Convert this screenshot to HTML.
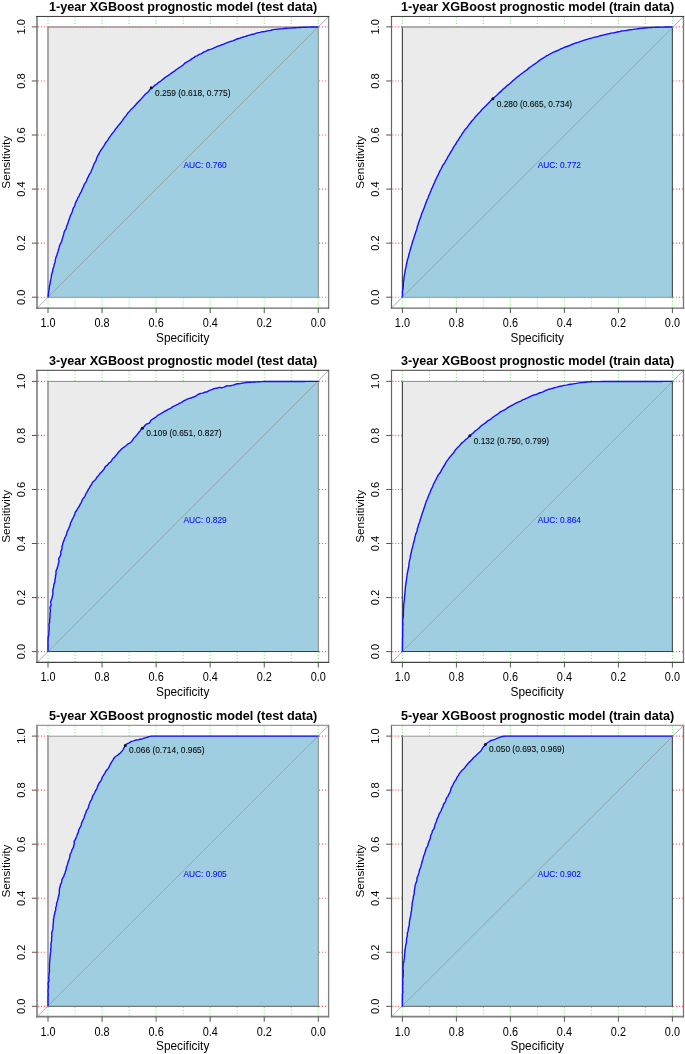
<!DOCTYPE html>
<html><head><meta charset="utf-8"><title>ROC curves</title>
<style>
html,body{margin:0;padding:0;background:#fff;}
body{width:685px;height:1054px;overflow:hidden;font-family:"Liberation Sans",sans-serif;}
svg{display:block;will-change:transform;transform:translateZ(0);}
</style></head><body>
<svg width="685" height="1054" viewBox="0 0 685 1054" font-family="'Liberation Sans', sans-serif">
<rect width="685" height="1054" fill="#fff"/>
<g>
<line x1="318.3" y1="17.3" x2="318.3" y2="26.9" stroke="#66f566" stroke-width="1.05" stroke-dasharray="1 1.9"/>
<line x1="318.3" y1="297.8" x2="318.3" y2="307.9" stroke="#66f566" stroke-width="1.05" stroke-dasharray="1 1.9"/>
<line x1="291.27" y1="17.3" x2="291.27" y2="26.9" stroke="#66f566" stroke-width="1.05" stroke-dasharray="1 1.9"/>
<line x1="291.27" y1="297.8" x2="291.27" y2="307.9" stroke="#66f566" stroke-width="1.05" stroke-dasharray="1 1.9"/>
<line x1="264.24" y1="17.3" x2="264.24" y2="26.9" stroke="#66f566" stroke-width="1.05" stroke-dasharray="1 1.9"/>
<line x1="264.24" y1="297.8" x2="264.24" y2="307.9" stroke="#66f566" stroke-width="1.05" stroke-dasharray="1 1.9"/>
<line x1="237.21" y1="17.3" x2="237.21" y2="26.9" stroke="#66f566" stroke-width="1.05" stroke-dasharray="1 1.9"/>
<line x1="237.21" y1="297.8" x2="237.21" y2="307.9" stroke="#66f566" stroke-width="1.05" stroke-dasharray="1 1.9"/>
<line x1="210.18" y1="17.3" x2="210.18" y2="26.9" stroke="#66f566" stroke-width="1.05" stroke-dasharray="1 1.9"/>
<line x1="210.18" y1="297.8" x2="210.18" y2="307.9" stroke="#66f566" stroke-width="1.05" stroke-dasharray="1 1.9"/>
<line x1="183.15" y1="17.3" x2="183.15" y2="26.9" stroke="#66f566" stroke-width="1.05" stroke-dasharray="1 1.9"/>
<line x1="183.15" y1="297.8" x2="183.15" y2="307.9" stroke="#66f566" stroke-width="1.05" stroke-dasharray="1 1.9"/>
<line x1="156.12" y1="17.3" x2="156.12" y2="26.9" stroke="#66f566" stroke-width="1.05" stroke-dasharray="1 1.9"/>
<line x1="156.12" y1="297.8" x2="156.12" y2="307.9" stroke="#66f566" stroke-width="1.05" stroke-dasharray="1 1.9"/>
<line x1="129.09" y1="17.3" x2="129.09" y2="26.9" stroke="#66f566" stroke-width="1.05" stroke-dasharray="1 1.9"/>
<line x1="129.09" y1="297.8" x2="129.09" y2="307.9" stroke="#66f566" stroke-width="1.05" stroke-dasharray="1 1.9"/>
<line x1="102.06" y1="17.3" x2="102.06" y2="26.9" stroke="#66f566" stroke-width="1.05" stroke-dasharray="1 1.9"/>
<line x1="102.06" y1="297.8" x2="102.06" y2="307.9" stroke="#66f566" stroke-width="1.05" stroke-dasharray="1 1.9"/>
<line x1="75.03" y1="17.3" x2="75.03" y2="26.9" stroke="#66f566" stroke-width="1.05" stroke-dasharray="1 1.9"/>
<line x1="75.03" y1="297.8" x2="75.03" y2="307.9" stroke="#66f566" stroke-width="1.05" stroke-dasharray="1 1.9"/>
<line x1="48" y1="17.3" x2="48" y2="26.9" stroke="#66f566" stroke-width="1.05" stroke-dasharray="1 1.9"/>
<line x1="48" y1="297.8" x2="48" y2="307.9" stroke="#66f566" stroke-width="1.05" stroke-dasharray="1 1.9"/>
<line x1="38.1" y1="297.2" x2="48" y2="297.2" stroke="#ff5252" stroke-width="1.15" stroke-dasharray="1 1.9"/>
<line x1="319.1" y1="297.2" x2="328.6" y2="297.2" stroke="#ff5252" stroke-width="1.15" stroke-dasharray="1 1.9"/>
<line x1="38.1" y1="243.14" x2="48" y2="243.14" stroke="#ff5252" stroke-width="1.15" stroke-dasharray="1 1.9"/>
<line x1="319.1" y1="243.14" x2="328.6" y2="243.14" stroke="#ff5252" stroke-width="1.15" stroke-dasharray="1 1.9"/>
<line x1="38.1" y1="189.08" x2="48" y2="189.08" stroke="#ff5252" stroke-width="1.15" stroke-dasharray="1 1.9"/>
<line x1="319.1" y1="189.08" x2="328.6" y2="189.08" stroke="#ff5252" stroke-width="1.15" stroke-dasharray="1 1.9"/>
<line x1="38.1" y1="135.02" x2="48" y2="135.02" stroke="#ff5252" stroke-width="1.15" stroke-dasharray="1 1.9"/>
<line x1="319.1" y1="135.02" x2="328.6" y2="135.02" stroke="#ff5252" stroke-width="1.15" stroke-dasharray="1 1.9"/>
<line x1="38.1" y1="80.96" x2="48" y2="80.96" stroke="#ff5252" stroke-width="1.15" stroke-dasharray="1 1.9"/>
<line x1="319.1" y1="80.96" x2="328.6" y2="80.96" stroke="#ff5252" stroke-width="1.15" stroke-dasharray="1 1.9"/>
<line x1="38.1" y1="26.9" x2="48" y2="26.9" stroke="#ff5252" stroke-width="1.15" stroke-dasharray="1 1.9"/>
<line x1="319.1" y1="26.9" x2="328.6" y2="26.9" stroke="#ff5252" stroke-width="1.15" stroke-dasharray="1 1.9"/>
<rect x="48" y="26.9" width="270.3" height="270.3" fill="#ebebeb"/>
<path d="M48 297.2 L48.25 295.72 L48.38 294.22 L48.66 292.74 L48.78 291.24 L48.95 289.74 L49.25 288.27 L49.29 286.75 L49.63 285.29 L50.13 283.85 L50.22 282.34 L50.41 280.84 L50.82 279.39 L51.1 277.92 L51.33 276.43 L51.52 274.93 L51.92 273.48 L52.41 272.05 L52.72 270.58 L52.9 269.08 L53.4 267.65 L53.95 266.24 L54.12 264.73 L54.71 263.34 L55.15 261.9 L55.21 260.35 L55.58 258.9 L55.92 257.43 L56.5 256.03 L57.12 254.65 L57.38 253.16 L57.98 251.77 L58.34 250.31 L58.75 248.86 L59.17 247.41 L59.52 245.95 L60.08 244.55 L60.77 243.19 L61.55 241.87 L61.85 240.38 L62.24 238.93 L62.74 237.51 L63.2 236.08 L63.64 234.64 L63.91 233.14 L64.3 231.69 L65.01 230.34 L65.91 229.07 L66.41 227.65 L66.64 226.13 L67.31 224.78 L67.9 223.39 L68.24 221.92 L68.76 220.51 L69.26 219.09 L69.74 217.66 L70.15 216.21 L70.76 214.83 L71.44 213.48 L72.05 212.11 L72.58 210.7 L72.83 209.18 L73.43 207.8 L74.36 206.56 L74.93 205.17 L75.27 203.68 L75.8 202.27 L76.4 200.89 L77.11 199.56 L77.72 198.19 L78.52 196.9 L79.24 195.58 L79.75 194.16 L80.55 192.88 L81.34 191.59 L81.83 190.16 L82.38 188.75 L83.14 187.45 L83.75 186.08 L84.19 184.61 L84.94 183.31 L85.86 182.09 L86.51 180.73 L87 179.3 L87.61 177.92 L88.3 176.58 L88.94 175.23 L89.76 173.95 L90.58 172.68 L91.16 171.28 L91.69 169.88 L92.32 168.51 L92.88 167.11 L93.42 165.71 L93.95 164.3 L94.55 162.92 L95.43 161.67 L96.11 160.33 L96.46 158.85 L96.96 157.43 L97.56 156.06 L98.32 154.76 L99.15 153.51 L99.72 152.11 L100.49 150.82 L101.34 149.59 L102.22 148.36 L103.09 147.13 L103.92 145.89 L104.69 144.6 L105.34 143.23 L106.25 142.03 L107.22 140.87 L108.1 139.65 L108.77 138.29 L109.61 137.04 L110.6 135.9 L111.43 134.65 L112.27 133.39 L113.35 132.32 L114.27 131.13 L114.95 129.77 L115.94 128.63 L116.94 127.5 L117.8 126.26 L118.77 125.12 L119.74 123.97 L120.63 122.75 L121.59 121.6 L122.51 120.41 L123.31 119.12 L124.18 117.9 L125.13 116.73 L126.11 115.59 L127.01 114.39 L127.81 113.09 L128.87 112.03 L129.9 110.93 L130.74 109.66 L131.89 108.67 L133.02 107.67 L134.06 106.59 L135.11 105.51 L136.03 104.31 L137.01 103.17 L138.09 102.12 L139.19 101.1 L140.19 99.98 L141.21 98.87 L142.16 97.71 L143.2 96.61 L144.18 95.48 L145.17 94.35 L146.38 93.42 L147.5 92.41 L148.6 91.4 L149.45 90.14 L150.45 89.02 L151.74 88.22 L152.87 87.25 L153.87 86.12 L155 85.14 L156.37 84.46 L157.44 83.4 L158.56 82.38 L159.94 81.72 L161.08 80.73 L162.26 79.8 L163.45 78.88 L164.57 77.87 L165.81 77.01 L167.08 76.21 L168.35 75.39 L169.62 74.58 L170.79 73.63 L171.95 72.67 L173.29 71.96 L174.56 71.16 L175.65 70.09 L176.88 69.23 L178.15 68.43 L179.36 67.53 L180.62 66.72 L181.89 65.91 L183.1 65.01 L184.13 63.87 L185.27 62.87 L186.66 62.23 L187.96 61.47 L189.23 60.67 L190.51 59.88 L191.65 58.89 L192.97 58.16 L194.24 57.37 L195.36 56.31 L196.82 55.83 L198.14 55.12 L199.39 54.28 L200.86 53.86 L202.18 53.14 L203.41 52.24 L204.81 51.68 L206.19 51.07 L207.46 50.23 L208.89 49.74 L210.36 49.37 L211.78 48.87 L213.17 48.32 L214.54 47.7 L215.91 47.06 L217.28 46.45 L218.68 45.89 L220.15 45.52 L221.55 44.97 L222.94 44.41 L224.33 43.84 L225.69 43.18 L227.11 42.69 L228.53 42.18 L229.95 41.7 L231.37 41.21 L232.82 40.8 L234.22 40.26 L235.57 39.56 L236.96 38.98 L238.39 38.52 L239.87 38.21 L241.28 37.66 L242.68 37.12 L244.16 36.8 L245.58 36.33 L246.98 35.75 L248.45 35.41 L249.9 35.04 L251.33 34.56 L252.8 34.27 L254.27 33.97 L255.69 33.45 L257.11 32.93 L258.59 32.67 L260.06 32.39 L261.49 31.85 L262.99 31.7 L264.5 31.6 L265.97 31.24 L267.42 30.83 L268.9 30.6 L270.39 30.39 L271.84 29.98 L273.31 29.64 L274.8 29.4 L276.3 29.31 L277.79 29.11 L279.29 28.99 L280.78 28.84 L282.28 28.72 L283.77 28.53 L285.26 28.27 L286.76 28.19 L288.26 28.16 L289.77 28.12 L291.27 28.02 L292.76 27.82 L294.26 27.72 L295.77 27.73 L297.27 27.63 L298.77 27.51 L300.27 27.44 L301.77 27.37 L303.27 27.31 L304.77 27.25 L306.28 27.2 L307.78 27.15 L309.28 27.11 L310.78 27.07 L312.29 27.03 L313.79 27 L315.29 26.96 L316.8 26.93 L318.3 26.9 L318.3 297.2 L48 297.2 Z" fill="#9ecee0"/>
<line x1="48" y1="26.4" x2="48" y2="297.7" stroke="#a8a8a8" stroke-width="2.0"/>
<line x1="318.3" y1="26.4" x2="318.3" y2="297.7" stroke="#8a8a8a" stroke-width="1.0"/>
<line x1="47.5" y1="26.9" x2="318.8" y2="26.9" stroke="#999" stroke-width="1.5"/>
<line x1="48" y1="26.9" x2="318.3" y2="26.9" stroke="#e05050" stroke-width="1.2" stroke-dasharray="1 1.9" opacity="0.4"/>
<line x1="47.5" y1="297.3" x2="318.8" y2="297.3" stroke="#8a9aa0" stroke-width="1.0"/>
<line x1="37.3" y1="307.9" x2="328.6" y2="16.5" stroke="#969696" stroke-width="0.75"/>
<path d="M48 297.2 L48.25 295.72 L48.38 294.22 L48.66 292.74 L48.78 291.24 L48.95 289.74 L49.25 288.27 L49.29 286.75 L49.63 285.29 L50.13 283.85 L50.22 282.34 L50.41 280.84 L50.82 279.39 L51.1 277.92 L51.33 276.43 L51.52 274.93 L51.92 273.48 L52.41 272.05 L52.72 270.58 L52.9 269.08 L53.4 267.65 L53.95 266.24 L54.12 264.73 L54.71 263.34 L55.15 261.9 L55.21 260.35 L55.58 258.9 L55.92 257.43 L56.5 256.03 L57.12 254.65 L57.38 253.16 L57.98 251.77 L58.34 250.31 L58.75 248.86 L59.17 247.41 L59.52 245.95 L60.08 244.55 L60.77 243.19 L61.55 241.87 L61.85 240.38 L62.24 238.93 L62.74 237.51 L63.2 236.08 L63.64 234.64 L63.91 233.14 L64.3 231.69 L65.01 230.34 L65.91 229.07 L66.41 227.65 L66.64 226.13 L67.31 224.78 L67.9 223.39 L68.24 221.92 L68.76 220.51 L69.26 219.09 L69.74 217.66 L70.15 216.21 L70.76 214.83 L71.44 213.48 L72.05 212.11 L72.58 210.7 L72.83 209.18 L73.43 207.8 L74.36 206.56 L74.93 205.17 L75.27 203.68 L75.8 202.27 L76.4 200.89 L77.11 199.56 L77.72 198.19 L78.52 196.9 L79.24 195.58 L79.75 194.16 L80.55 192.88 L81.34 191.59 L81.83 190.16 L82.38 188.75 L83.14 187.45 L83.75 186.08 L84.19 184.61 L84.94 183.31 L85.86 182.09 L86.51 180.73 L87 179.3 L87.61 177.92 L88.3 176.58 L88.94 175.23 L89.76 173.95 L90.58 172.68 L91.16 171.28 L91.69 169.88 L92.32 168.51 L92.88 167.11 L93.42 165.71 L93.95 164.3 L94.55 162.92 L95.43 161.67 L96.11 160.33 L96.46 158.85 L96.96 157.43 L97.56 156.06 L98.32 154.76 L99.15 153.51 L99.72 152.11 L100.49 150.82 L101.34 149.59 L102.22 148.36 L103.09 147.13 L103.92 145.89 L104.69 144.6 L105.34 143.23 L106.25 142.03 L107.22 140.87 L108.1 139.65 L108.77 138.29 L109.61 137.04 L110.6 135.9 L111.43 134.65 L112.27 133.39 L113.35 132.32 L114.27 131.13 L114.95 129.77 L115.94 128.63 L116.94 127.5 L117.8 126.26 L118.77 125.12 L119.74 123.97 L120.63 122.75 L121.59 121.6 L122.51 120.41 L123.31 119.12 L124.18 117.9 L125.13 116.73 L126.11 115.59 L127.01 114.39 L127.81 113.09 L128.87 112.03 L129.9 110.93 L130.74 109.66 L131.89 108.67 L133.02 107.67 L134.06 106.59 L135.11 105.51 L136.03 104.31 L137.01 103.17 L138.09 102.12 L139.19 101.1 L140.19 99.98 L141.21 98.87 L142.16 97.71 L143.2 96.61 L144.18 95.48 L145.17 94.35 L146.38 93.42 L147.5 92.41 L148.6 91.4 L149.45 90.14 L150.45 89.02 L151.74 88.22 L152.87 87.25 L153.87 86.12 L155 85.14 L156.37 84.46 L157.44 83.4 L158.56 82.38 L159.94 81.72 L161.08 80.73 L162.26 79.8 L163.45 78.88 L164.57 77.87 L165.81 77.01 L167.08 76.21 L168.35 75.39 L169.62 74.58 L170.79 73.63 L171.95 72.67 L173.29 71.96 L174.56 71.16 L175.65 70.09 L176.88 69.23 L178.15 68.43 L179.36 67.53 L180.62 66.72 L181.89 65.91 L183.1 65.01 L184.13 63.87 L185.27 62.87 L186.66 62.23 L187.96 61.47 L189.23 60.67 L190.51 59.88 L191.65 58.89 L192.97 58.16 L194.24 57.37 L195.36 56.31 L196.82 55.83 L198.14 55.12 L199.39 54.28 L200.86 53.86 L202.18 53.14 L203.41 52.24 L204.81 51.68 L206.19 51.07 L207.46 50.23 L208.89 49.74 L210.36 49.37 L211.78 48.87 L213.17 48.32 L214.54 47.7 L215.91 47.06 L217.28 46.45 L218.68 45.89 L220.15 45.52 L221.55 44.97 L222.94 44.41 L224.33 43.84 L225.69 43.18 L227.11 42.69 L228.53 42.18 L229.95 41.7 L231.37 41.21 L232.82 40.8 L234.22 40.26 L235.57 39.56 L236.96 38.98 L238.39 38.52 L239.87 38.21 L241.28 37.66 L242.68 37.12 L244.16 36.8 L245.58 36.33 L246.98 35.75 L248.45 35.41 L249.9 35.04 L251.33 34.56 L252.8 34.27 L254.27 33.97 L255.69 33.45 L257.11 32.93 L258.59 32.67 L260.06 32.39 L261.49 31.85 L262.99 31.7 L264.5 31.6 L265.97 31.24 L267.42 30.83 L268.9 30.6 L270.39 30.39 L271.84 29.98 L273.31 29.64 L274.8 29.4 L276.3 29.31 L277.79 29.11 L279.29 28.99 L280.78 28.84 L282.28 28.72 L283.77 28.53 L285.26 28.27 L286.76 28.19 L288.26 28.16 L289.77 28.12 L291.27 28.02 L292.76 27.82 L294.26 27.72 L295.77 27.73 L297.27 27.63 L298.77 27.51 L300.27 27.44 L301.77 27.37 L303.27 27.31 L304.77 27.25 L306.28 27.2 L307.78 27.15 L309.28 27.11 L310.78 27.07 L312.29 27.03 L313.79 27 L315.29 26.96 L316.8 26.93 L318.3 26.9" fill="none" stroke="#1212fa" stroke-width="1.4" stroke-linejoin="round"/>
<line x1="37" y1="15.94" x2="37" y2="308.75" stroke="#979797" stroke-width="2.0"/>
<line x1="328.6" y1="15.94" x2="328.6" y2="308.75" stroke="#808080" stroke-width="1.3"/>
<line x1="36" y1="16.44" x2="329.25" y2="16.44" stroke="#3a3a3a" stroke-width="1.0"/>
<line x1="36" y1="308.1" x2="329.25" y2="308.1" stroke="#6a6a6a" stroke-width="1.3"/>
<line x1="318.3" y1="307.9" x2="318.3" y2="313.1" stroke="#555" stroke-width="1"/>
<line x1="31.9" y1="297.2" x2="37.3" y2="297.2" stroke="#555" stroke-width="1"/>
<text transform="translate(318.3 326.8) scale(0.93 1.02)" font-size="11.7" text-anchor="middle" fill="#000">0.0</text>
<text transform="translate(25.1 297.2) rotate(-90) scale(0.95 1.0)" font-size="11.7" text-anchor="middle" fill="#000">0.0</text>
<line x1="264.24" y1="307.9" x2="264.24" y2="313.1" stroke="#555" stroke-width="1"/>
<line x1="31.9" y1="243.14" x2="37.3" y2="243.14" stroke="#555" stroke-width="1"/>
<text transform="translate(264.24 326.8) scale(0.93 1.02)" font-size="11.7" text-anchor="middle" fill="#000">0.2</text>
<text transform="translate(25.1 243.14) rotate(-90) scale(0.95 1.0)" font-size="11.7" text-anchor="middle" fill="#000">0.2</text>
<line x1="210.18" y1="307.9" x2="210.18" y2="313.1" stroke="#555" stroke-width="1"/>
<line x1="31.9" y1="189.08" x2="37.3" y2="189.08" stroke="#555" stroke-width="1"/>
<text transform="translate(210.18 326.8) scale(0.93 1.02)" font-size="11.7" text-anchor="middle" fill="#000">0.4</text>
<text transform="translate(25.1 189.08) rotate(-90) scale(0.95 1.0)" font-size="11.7" text-anchor="middle" fill="#000">0.4</text>
<line x1="156.12" y1="307.9" x2="156.12" y2="313.1" stroke="#555" stroke-width="1"/>
<line x1="31.9" y1="135.02" x2="37.3" y2="135.02" stroke="#555" stroke-width="1"/>
<text transform="translate(156.12 326.8) scale(0.93 1.02)" font-size="11.7" text-anchor="middle" fill="#000">0.6</text>
<text transform="translate(25.1 135.02) rotate(-90) scale(0.95 1.0)" font-size="11.7" text-anchor="middle" fill="#000">0.6</text>
<line x1="102.06" y1="307.9" x2="102.06" y2="313.1" stroke="#555" stroke-width="1"/>
<line x1="31.9" y1="80.96" x2="37.3" y2="80.96" stroke="#555" stroke-width="1"/>
<text transform="translate(102.06 326.8) scale(0.93 1.02)" font-size="11.7" text-anchor="middle" fill="#000">0.8</text>
<text transform="translate(25.1 80.96) rotate(-90) scale(0.95 1.0)" font-size="11.7" text-anchor="middle" fill="#000">0.8</text>
<line x1="48" y1="307.9" x2="48" y2="313.1" stroke="#555" stroke-width="1"/>
<line x1="31.9" y1="26.9" x2="37.3" y2="26.9" stroke="#555" stroke-width="1"/>
<text transform="translate(48 326.8) scale(0.93 1.02)" font-size="11.7" text-anchor="middle" fill="#000">1.0</text>
<text transform="translate(25.1 26.9) rotate(-90) scale(0.95 1.0)" font-size="11.7" text-anchor="middle" fill="#000">1.0</text>
<text x="182.65" y="341.5" font-size="11.85" text-anchor="middle" fill="#000">Specificity</text>
<text transform="translate(10 162.2) rotate(-90)" font-size="11.75" text-anchor="middle" fill="#000">Sensitivity</text>
<text x="183.05" y="10.7" font-size="12.65" font-weight="bold" text-anchor="middle" fill="#000">1-year XGBoost prognostic model (test data)</text>
<circle cx="151.25" cy="87.72" r="1.5" fill="#111"/>
<text x="155.05" y="95.62" font-size="8.4" fill="#000" stroke="#000" stroke-width="0.06">0.259 (0.618, 0.775)</text>
<text x="183.45" y="168.15" font-size="8.4" fill="#0808f8" stroke="#0808f8" stroke-width="0.06">AUC: 0.760</text>
</g>
<g>
<line x1="672.4" y1="17.3" x2="672.4" y2="26.9" stroke="#66f566" stroke-width="1.05" stroke-dasharray="1 1.9"/>
<line x1="672.4" y1="297.8" x2="672.4" y2="307.9" stroke="#66f566" stroke-width="1.05" stroke-dasharray="1 1.9"/>
<line x1="645.4" y1="17.3" x2="645.4" y2="26.9" stroke="#66f566" stroke-width="1.05" stroke-dasharray="1 1.9"/>
<line x1="645.4" y1="297.8" x2="645.4" y2="307.9" stroke="#66f566" stroke-width="1.05" stroke-dasharray="1 1.9"/>
<line x1="618.4" y1="17.3" x2="618.4" y2="26.9" stroke="#66f566" stroke-width="1.05" stroke-dasharray="1 1.9"/>
<line x1="618.4" y1="297.8" x2="618.4" y2="307.9" stroke="#66f566" stroke-width="1.05" stroke-dasharray="1 1.9"/>
<line x1="591.4" y1="17.3" x2="591.4" y2="26.9" stroke="#66f566" stroke-width="1.05" stroke-dasharray="1 1.9"/>
<line x1="591.4" y1="297.8" x2="591.4" y2="307.9" stroke="#66f566" stroke-width="1.05" stroke-dasharray="1 1.9"/>
<line x1="564.4" y1="17.3" x2="564.4" y2="26.9" stroke="#66f566" stroke-width="1.05" stroke-dasharray="1 1.9"/>
<line x1="564.4" y1="297.8" x2="564.4" y2="307.9" stroke="#66f566" stroke-width="1.05" stroke-dasharray="1 1.9"/>
<line x1="537.4" y1="17.3" x2="537.4" y2="26.9" stroke="#66f566" stroke-width="1.05" stroke-dasharray="1 1.9"/>
<line x1="537.4" y1="297.8" x2="537.4" y2="307.9" stroke="#66f566" stroke-width="1.05" stroke-dasharray="1 1.9"/>
<line x1="510.4" y1="17.3" x2="510.4" y2="26.9" stroke="#66f566" stroke-width="1.05" stroke-dasharray="1 1.9"/>
<line x1="510.4" y1="297.8" x2="510.4" y2="307.9" stroke="#66f566" stroke-width="1.05" stroke-dasharray="1 1.9"/>
<line x1="483.4" y1="17.3" x2="483.4" y2="26.9" stroke="#66f566" stroke-width="1.05" stroke-dasharray="1 1.9"/>
<line x1="483.4" y1="297.8" x2="483.4" y2="307.9" stroke="#66f566" stroke-width="1.05" stroke-dasharray="1 1.9"/>
<line x1="456.4" y1="17.3" x2="456.4" y2="26.9" stroke="#66f566" stroke-width="1.05" stroke-dasharray="1 1.9"/>
<line x1="456.4" y1="297.8" x2="456.4" y2="307.9" stroke="#66f566" stroke-width="1.05" stroke-dasharray="1 1.9"/>
<line x1="429.4" y1="17.3" x2="429.4" y2="26.9" stroke="#66f566" stroke-width="1.05" stroke-dasharray="1 1.9"/>
<line x1="429.4" y1="297.8" x2="429.4" y2="307.9" stroke="#66f566" stroke-width="1.05" stroke-dasharray="1 1.9"/>
<line x1="402.4" y1="17.3" x2="402.4" y2="26.9" stroke="#66f566" stroke-width="1.05" stroke-dasharray="1 1.9"/>
<line x1="402.4" y1="297.8" x2="402.4" y2="307.9" stroke="#66f566" stroke-width="1.05" stroke-dasharray="1 1.9"/>
<line x1="392.4" y1="297.2" x2="402.4" y2="297.2" stroke="#ff5252" stroke-width="1.15" stroke-dasharray="1 1.9"/>
<line x1="673.2" y1="297.2" x2="683.5" y2="297.2" stroke="#ff5252" stroke-width="1.15" stroke-dasharray="1 1.9"/>
<line x1="392.4" y1="243.14" x2="402.4" y2="243.14" stroke="#ff5252" stroke-width="1.15" stroke-dasharray="1 1.9"/>
<line x1="673.2" y1="243.14" x2="683.5" y2="243.14" stroke="#ff5252" stroke-width="1.15" stroke-dasharray="1 1.9"/>
<line x1="392.4" y1="189.08" x2="402.4" y2="189.08" stroke="#ff5252" stroke-width="1.15" stroke-dasharray="1 1.9"/>
<line x1="673.2" y1="189.08" x2="683.5" y2="189.08" stroke="#ff5252" stroke-width="1.15" stroke-dasharray="1 1.9"/>
<line x1="392.4" y1="135.02" x2="402.4" y2="135.02" stroke="#ff5252" stroke-width="1.15" stroke-dasharray="1 1.9"/>
<line x1="673.2" y1="135.02" x2="683.5" y2="135.02" stroke="#ff5252" stroke-width="1.15" stroke-dasharray="1 1.9"/>
<line x1="392.4" y1="80.96" x2="402.4" y2="80.96" stroke="#ff5252" stroke-width="1.15" stroke-dasharray="1 1.9"/>
<line x1="673.2" y1="80.96" x2="683.5" y2="80.96" stroke="#ff5252" stroke-width="1.15" stroke-dasharray="1 1.9"/>
<line x1="392.4" y1="26.9" x2="402.4" y2="26.9" stroke="#ff5252" stroke-width="1.15" stroke-dasharray="1 1.9"/>
<line x1="673.2" y1="26.9" x2="683.5" y2="26.9" stroke="#ff5252" stroke-width="1.15" stroke-dasharray="1 1.9"/>
<rect x="402.4" y="26.9" width="270" height="270.3" fill="#ebebeb"/>
<path d="M402.4 297.2 L402.5 295.7 L402.53 294.2 L402.45 292.69 L402.51 291.19 L402.82 289.71 L403.15 288.22 L403.24 286.73 L403.32 285.23 L403.39 283.74 L403.44 282.23 L403.68 280.75 L403.88 279.26 L403.94 277.76 L404.21 276.28 L404.43 274.8 L404.74 273.33 L405.03 271.85 L405.24 270.37 L405.52 268.89 L405.89 267.44 L406.18 265.97 L406.42 264.48 L406.81 263.03 L407.07 261.55 L407.37 260.08 L407.85 258.65 L408.3 257.22 L408.65 255.76 L408.93 254.28 L409.39 252.85 L409.82 251.41 L410.16 249.95 L410.61 248.51 L411.03 247.08 L411.44 245.63 L411.91 244.21 L412.33 242.76 L412.73 241.31 L413.22 239.89 L413.65 238.46 L414.13 237.03 L414.64 235.62 L415.09 234.19 L415.53 232.75 L416 231.33 L416.55 229.93 L417.03 228.5 L417.22 226.99 L417.68 225.56 L418.21 224.15 L418.51 222.67 L419.08 221.28 L419.58 219.86 L420.14 218.46 L420.74 217.08 L421.11 215.62 L421.5 214.17 L422.07 212.78 L422.75 211.43 L423.26 210.02 L423.82 208.63 L424.38 207.23 L424.86 205.81 L425.35 204.39 L425.87 202.98 L426.42 201.58 L426.86 200.14 L427.56 198.81 L428.22 197.45 L428.67 196.01 L429.32 194.66 L429.9 193.28 L430.43 191.87 L431.03 190.49 L431.55 189.08 L432.2 187.73 L432.88 186.38 L433.37 184.96 L434.01 183.6 L434.67 182.25 L435.19 180.84 L435.81 179.47 L436.49 178.13 L437.13 176.78 L437.8 175.44 L438.48 174.1 L439.07 172.71 L439.71 171.36 L440.42 170.03 L441.15 168.72 L441.84 167.39 L442.42 166 L443.19 164.71 L444.16 163.53 L444.98 162.27 L445.61 160.9 L446.43 159.64 L447.18 158.34 L447.82 156.98 L448.64 155.72 L449.43 154.44 L450.15 153.12 L450.88 151.81 L451.64 150.52 L452.48 149.27 L453.18 147.94 L453.87 146.6 L454.77 145.39 L455.71 144.21 L456.35 142.84 L457.05 141.5 L458.02 140.35 L458.81 139.07 L459.53 137.75 L460.43 136.55 L461.28 135.3 L462.03 134 L462.89 132.77 L463.72 131.52 L464.51 130.24 L465.52 129.12 L466.61 128.06 L467.48 126.84 L468.32 125.59 L469.26 124.42 L470.21 123.25 L471.05 122.01 L471.96 120.81 L473.01 119.73 L474.02 118.61 L474.9 117.4 L475.84 116.22 L476.94 115.19 L477.93 114.06 L478.94 112.95 L480.03 111.92 L480.96 110.73 L481.94 109.6 L483.02 108.55 L484.09 107.49 L485.13 106.42 L486.23 105.39 L487.32 104.36 L488.32 103.24 L489.36 102.15 L490.42 101.1 L491.5 100.05 L492.63 99.06 L493.65 97.95 L494.75 96.93 L495.94 96 L497.03 94.97 L498.08 93.89 L499.17 92.86 L500.3 91.86 L501.42 90.87 L502.46 89.79 L503.56 88.76 L504.78 87.87 L505.87 86.84 L506.93 85.77 L508.11 84.83 L509.36 83.98 L510.48 82.98 L511.53 81.91 L512.65 80.9 L513.79 79.94 L514.96 79 L516.06 77.97 L517.22 77.02 L518.46 76.16 L519.6 75.18 L520.76 74.24 L522.02 73.41 L523.23 72.52 L524.39 71.56 L525.63 70.72 L526.87 69.88 L528.01 68.89 L529.12 67.87 L530.33 66.98 L531.61 66.19 L532.82 65.3 L534.02 64.4 L535.28 63.59 L536.51 62.73 L537.71 61.83 L538.85 60.86 L540.03 59.94 L541.35 59.22 L542.58 58.36 L543.86 57.6 L545.13 56.8 L546.35 55.91 L547.73 55.31 L549 54.51 L550.31 53.78 L551.67 53.15 L552.97 52.39 L554.36 51.81 L555.74 51.24 L557.12 50.65 L558.49 50.03 L559.85 49.38 L561.2 48.73 L562.6 48.17 L563.95 47.52 L565.34 46.96 L566.79 46.53 L568.2 46.01 L569.62 45.52 L570.96 44.82 L572.34 44.24 L573.76 43.75 L575.15 43.18 L576.59 42.76 L578.03 42.32 L579.45 41.83 L580.86 41.33 L582.28 40.85 L583.7 40.34 L585.12 39.85 L586.58 39.51 L588.01 39.06 L589.44 38.58 L590.91 38.28 L592.37 37.91 L593.8 37.44 L595.25 37.07 L596.73 36.81 L598.17 36.36 L599.59 35.84 L601.06 35.53 L602.52 35.21 L603.98 34.83 L605.44 34.5 L606.9 34.12 L608.37 33.81 L609.84 33.54 L611.3 33.16 L612.77 32.89 L614.27 32.71 L615.73 32.35 L617.19 32 L618.68 31.81 L620.14 31.45 L621.59 31.04 L623.08 30.84 L624.57 30.64 L626.06 30.46 L627.55 30.24 L629.01 29.87 L630.5 29.7 L632.01 29.66 L633.48 29.34 L634.97 29.1 L636.46 28.93 L637.94 28.69 L639.43 28.51 L640.93 28.41 L642.42 28.23 L643.91 28.04 L645.41 27.93 L646.9 27.78 L648.39 27.66 L649.89 27.58 L651.39 27.51 L652.89 27.42 L654.39 27.35 L655.89 27.29 L657.39 27.24 L658.89 27.2 L660.39 27.15 L661.89 27.12 L663.39 27.08 L664.89 27.05 L666.4 27.02 L667.9 26.99 L669.4 26.96 L670.9 26.93 L672.4 26.9 L672.4 297.2 L402.4 297.2 Z" fill="#9ecee0"/>
<line x1="402.4" y1="26.4" x2="402.4" y2="297.7" stroke="#4a4a4a" stroke-width="1.2"/>
<line x1="672.4" y1="26.4" x2="672.4" y2="297.7" stroke="#4a4a4a" stroke-width="1.1"/>
<line x1="401.9" y1="26.9" x2="672.9" y2="26.9" stroke="#999" stroke-width="1.5"/>
<line x1="401.9" y1="297.3" x2="672.9" y2="297.3" stroke="#8a9aa0" stroke-width="1.0"/>
<line x1="391.6" y1="307.9" x2="683.5" y2="16.5" stroke="#969696" stroke-width="0.75"/>
<path d="M402.4 297.2 L402.5 295.7 L402.53 294.2 L402.45 292.69 L402.51 291.19 L402.82 289.71 L403.15 288.22 L403.24 286.73 L403.32 285.23 L403.39 283.74 L403.44 282.23 L403.68 280.75 L403.88 279.26 L403.94 277.76 L404.21 276.28 L404.43 274.8 L404.74 273.33 L405.03 271.85 L405.24 270.37 L405.52 268.89 L405.89 267.44 L406.18 265.97 L406.42 264.48 L406.81 263.03 L407.07 261.55 L407.37 260.08 L407.85 258.65 L408.3 257.22 L408.65 255.76 L408.93 254.28 L409.39 252.85 L409.82 251.41 L410.16 249.95 L410.61 248.51 L411.03 247.08 L411.44 245.63 L411.91 244.21 L412.33 242.76 L412.73 241.31 L413.22 239.89 L413.65 238.46 L414.13 237.03 L414.64 235.62 L415.09 234.19 L415.53 232.75 L416 231.33 L416.55 229.93 L417.03 228.5 L417.22 226.99 L417.68 225.56 L418.21 224.15 L418.51 222.67 L419.08 221.28 L419.58 219.86 L420.14 218.46 L420.74 217.08 L421.11 215.62 L421.5 214.17 L422.07 212.78 L422.75 211.43 L423.26 210.02 L423.82 208.63 L424.38 207.23 L424.86 205.81 L425.35 204.39 L425.87 202.98 L426.42 201.58 L426.86 200.14 L427.56 198.81 L428.22 197.45 L428.67 196.01 L429.32 194.66 L429.9 193.28 L430.43 191.87 L431.03 190.49 L431.55 189.08 L432.2 187.73 L432.88 186.38 L433.37 184.96 L434.01 183.6 L434.67 182.25 L435.19 180.84 L435.81 179.47 L436.49 178.13 L437.13 176.78 L437.8 175.44 L438.48 174.1 L439.07 172.71 L439.71 171.36 L440.42 170.03 L441.15 168.72 L441.84 167.39 L442.42 166 L443.19 164.71 L444.16 163.53 L444.98 162.27 L445.61 160.9 L446.43 159.64 L447.18 158.34 L447.82 156.98 L448.64 155.72 L449.43 154.44 L450.15 153.12 L450.88 151.81 L451.64 150.52 L452.48 149.27 L453.18 147.94 L453.87 146.6 L454.77 145.39 L455.71 144.21 L456.35 142.84 L457.05 141.5 L458.02 140.35 L458.81 139.07 L459.53 137.75 L460.43 136.55 L461.28 135.3 L462.03 134 L462.89 132.77 L463.72 131.52 L464.51 130.24 L465.52 129.12 L466.61 128.06 L467.48 126.84 L468.32 125.59 L469.26 124.42 L470.21 123.25 L471.05 122.01 L471.96 120.81 L473.01 119.73 L474.02 118.61 L474.9 117.4 L475.84 116.22 L476.94 115.19 L477.93 114.06 L478.94 112.95 L480.03 111.92 L480.96 110.73 L481.94 109.6 L483.02 108.55 L484.09 107.49 L485.13 106.42 L486.23 105.39 L487.32 104.36 L488.32 103.24 L489.36 102.15 L490.42 101.1 L491.5 100.05 L492.63 99.06 L493.65 97.95 L494.75 96.93 L495.94 96 L497.03 94.97 L498.08 93.89 L499.17 92.86 L500.3 91.86 L501.42 90.87 L502.46 89.79 L503.56 88.76 L504.78 87.87 L505.87 86.84 L506.93 85.77 L508.11 84.83 L509.36 83.98 L510.48 82.98 L511.53 81.91 L512.65 80.9 L513.79 79.94 L514.96 79 L516.06 77.97 L517.22 77.02 L518.46 76.16 L519.6 75.18 L520.76 74.24 L522.02 73.41 L523.23 72.52 L524.39 71.56 L525.63 70.72 L526.87 69.88 L528.01 68.89 L529.12 67.87 L530.33 66.98 L531.61 66.19 L532.82 65.3 L534.02 64.4 L535.28 63.59 L536.51 62.73 L537.71 61.83 L538.85 60.86 L540.03 59.94 L541.35 59.22 L542.58 58.36 L543.86 57.6 L545.13 56.8 L546.35 55.91 L547.73 55.31 L549 54.51 L550.31 53.78 L551.67 53.15 L552.97 52.39 L554.36 51.81 L555.74 51.24 L557.12 50.65 L558.49 50.03 L559.85 49.38 L561.2 48.73 L562.6 48.17 L563.95 47.52 L565.34 46.96 L566.79 46.53 L568.2 46.01 L569.62 45.52 L570.96 44.82 L572.34 44.24 L573.76 43.75 L575.15 43.18 L576.59 42.76 L578.03 42.32 L579.45 41.83 L580.86 41.33 L582.28 40.85 L583.7 40.34 L585.12 39.85 L586.58 39.51 L588.01 39.06 L589.44 38.58 L590.91 38.28 L592.37 37.91 L593.8 37.44 L595.25 37.07 L596.73 36.81 L598.17 36.36 L599.59 35.84 L601.06 35.53 L602.52 35.21 L603.98 34.83 L605.44 34.5 L606.9 34.12 L608.37 33.81 L609.84 33.54 L611.3 33.16 L612.77 32.89 L614.27 32.71 L615.73 32.35 L617.19 32 L618.68 31.81 L620.14 31.45 L621.59 31.04 L623.08 30.84 L624.57 30.64 L626.06 30.46 L627.55 30.24 L629.01 29.87 L630.5 29.7 L632.01 29.66 L633.48 29.34 L634.97 29.1 L636.46 28.93 L637.94 28.69 L639.43 28.51 L640.93 28.41 L642.42 28.23 L643.91 28.04 L645.41 27.93 L646.9 27.78 L648.39 27.66 L649.89 27.58 L651.39 27.51 L652.89 27.42 L654.39 27.35 L655.89 27.29 L657.39 27.24 L658.89 27.2 L660.39 27.15 L661.89 27.12 L663.39 27.08 L664.89 27.05 L666.4 27.02 L667.9 26.99 L669.4 26.96 L670.9 26.93 L672.4 26.9" fill="none" stroke="#1212fa" stroke-width="1.4" stroke-linejoin="round"/>
<line x1="391.5" y1="15.94" x2="391.5" y2="308.75" stroke="#666" stroke-width="1.2"/>
<line x1="683.5" y1="15.94" x2="683.5" y2="308.75" stroke="#777" stroke-width="1.3"/>
<line x1="390.9" y1="16.44" x2="684.15" y2="16.44" stroke="#3a3a3a" stroke-width="1.0"/>
<line x1="390.9" y1="308.1" x2="684.15" y2="308.1" stroke="#6a6a6a" stroke-width="1.3"/>
<line x1="672.4" y1="307.9" x2="672.4" y2="313.1" stroke="#555" stroke-width="1"/>
<line x1="386.2" y1="297.2" x2="391.6" y2="297.2" stroke="#555" stroke-width="1"/>
<text transform="translate(672.4 326.8) scale(0.93 1.02)" font-size="11.7" text-anchor="middle" fill="#000">0.0</text>
<text transform="translate(379.4 297.2) rotate(-90) scale(0.95 1.0)" font-size="11.7" text-anchor="middle" fill="#000">0.0</text>
<line x1="618.4" y1="307.9" x2="618.4" y2="313.1" stroke="#555" stroke-width="1"/>
<line x1="386.2" y1="243.14" x2="391.6" y2="243.14" stroke="#555" stroke-width="1"/>
<text transform="translate(618.4 326.8) scale(0.93 1.02)" font-size="11.7" text-anchor="middle" fill="#000">0.2</text>
<text transform="translate(379.4 243.14) rotate(-90) scale(0.95 1.0)" font-size="11.7" text-anchor="middle" fill="#000">0.2</text>
<line x1="564.4" y1="307.9" x2="564.4" y2="313.1" stroke="#555" stroke-width="1"/>
<line x1="386.2" y1="189.08" x2="391.6" y2="189.08" stroke="#555" stroke-width="1"/>
<text transform="translate(564.4 326.8) scale(0.93 1.02)" font-size="11.7" text-anchor="middle" fill="#000">0.4</text>
<text transform="translate(379.4 189.08) rotate(-90) scale(0.95 1.0)" font-size="11.7" text-anchor="middle" fill="#000">0.4</text>
<line x1="510.4" y1="307.9" x2="510.4" y2="313.1" stroke="#555" stroke-width="1"/>
<line x1="386.2" y1="135.02" x2="391.6" y2="135.02" stroke="#555" stroke-width="1"/>
<text transform="translate(510.4 326.8) scale(0.93 1.02)" font-size="11.7" text-anchor="middle" fill="#000">0.6</text>
<text transform="translate(379.4 135.02) rotate(-90) scale(0.95 1.0)" font-size="11.7" text-anchor="middle" fill="#000">0.6</text>
<line x1="456.4" y1="307.9" x2="456.4" y2="313.1" stroke="#555" stroke-width="1"/>
<line x1="386.2" y1="80.96" x2="391.6" y2="80.96" stroke="#555" stroke-width="1"/>
<text transform="translate(456.4 326.8) scale(0.93 1.02)" font-size="11.7" text-anchor="middle" fill="#000">0.8</text>
<text transform="translate(379.4 80.96) rotate(-90) scale(0.95 1.0)" font-size="11.7" text-anchor="middle" fill="#000">0.8</text>
<line x1="402.4" y1="307.9" x2="402.4" y2="313.1" stroke="#555" stroke-width="1"/>
<line x1="386.2" y1="26.9" x2="391.6" y2="26.9" stroke="#555" stroke-width="1"/>
<text transform="translate(402.4 326.8) scale(0.93 1.02)" font-size="11.7" text-anchor="middle" fill="#000">1.0</text>
<text transform="translate(379.4 26.9) rotate(-90) scale(0.95 1.0)" font-size="11.7" text-anchor="middle" fill="#000">1.0</text>
<text x="537.25" y="341.5" font-size="11.85" text-anchor="middle" fill="#000">Specificity</text>
<text transform="translate(364.3 162.2) rotate(-90)" font-size="11.75" text-anchor="middle" fill="#000">Sensitivity</text>
<text x="537.65" y="10.7" font-size="12.65" font-weight="bold" text-anchor="middle" fill="#000">1-year XGBoost prognostic model (train data)</text>
<circle cx="492.85" cy="98.8" r="1.5" fill="#111"/>
<text x="496.65" y="106.7" font-size="8.4" fill="#000" stroke="#000" stroke-width="0.06">0.280 (0.665, 0.734)</text>
<text x="537.7" y="168.15" font-size="8.4" fill="#0808f8" stroke="#0808f8" stroke-width="0.06">AUC: 0.772</text>
</g>
<g>
<line x1="318.3" y1="371.3" x2="318.3" y2="381.4" stroke="#66f566" stroke-width="1.05" stroke-dasharray="1 1.9"/>
<line x1="318.3" y1="652.2" x2="318.3" y2="662.3" stroke="#66f566" stroke-width="1.05" stroke-dasharray="1 1.9"/>
<line x1="291.27" y1="371.3" x2="291.27" y2="381.4" stroke="#66f566" stroke-width="1.05" stroke-dasharray="1 1.9"/>
<line x1="291.27" y1="652.2" x2="291.27" y2="662.3" stroke="#66f566" stroke-width="1.05" stroke-dasharray="1 1.9"/>
<line x1="264.24" y1="371.3" x2="264.24" y2="381.4" stroke="#66f566" stroke-width="1.05" stroke-dasharray="1 1.9"/>
<line x1="264.24" y1="652.2" x2="264.24" y2="662.3" stroke="#66f566" stroke-width="1.05" stroke-dasharray="1 1.9"/>
<line x1="237.21" y1="371.3" x2="237.21" y2="381.4" stroke="#66f566" stroke-width="1.05" stroke-dasharray="1 1.9"/>
<line x1="237.21" y1="652.2" x2="237.21" y2="662.3" stroke="#66f566" stroke-width="1.05" stroke-dasharray="1 1.9"/>
<line x1="210.18" y1="371.3" x2="210.18" y2="381.4" stroke="#66f566" stroke-width="1.05" stroke-dasharray="1 1.9"/>
<line x1="210.18" y1="652.2" x2="210.18" y2="662.3" stroke="#66f566" stroke-width="1.05" stroke-dasharray="1 1.9"/>
<line x1="183.15" y1="371.3" x2="183.15" y2="381.4" stroke="#66f566" stroke-width="1.05" stroke-dasharray="1 1.9"/>
<line x1="183.15" y1="652.2" x2="183.15" y2="662.3" stroke="#66f566" stroke-width="1.05" stroke-dasharray="1 1.9"/>
<line x1="156.12" y1="371.3" x2="156.12" y2="381.4" stroke="#66f566" stroke-width="1.05" stroke-dasharray="1 1.9"/>
<line x1="156.12" y1="652.2" x2="156.12" y2="662.3" stroke="#66f566" stroke-width="1.05" stroke-dasharray="1 1.9"/>
<line x1="129.09" y1="371.3" x2="129.09" y2="381.4" stroke="#66f566" stroke-width="1.05" stroke-dasharray="1 1.9"/>
<line x1="129.09" y1="652.2" x2="129.09" y2="662.3" stroke="#66f566" stroke-width="1.05" stroke-dasharray="1 1.9"/>
<line x1="102.06" y1="371.3" x2="102.06" y2="381.4" stroke="#66f566" stroke-width="1.05" stroke-dasharray="1 1.9"/>
<line x1="102.06" y1="652.2" x2="102.06" y2="662.3" stroke="#66f566" stroke-width="1.05" stroke-dasharray="1 1.9"/>
<line x1="75.03" y1="371.3" x2="75.03" y2="381.4" stroke="#66f566" stroke-width="1.05" stroke-dasharray="1 1.9"/>
<line x1="75.03" y1="652.2" x2="75.03" y2="662.3" stroke="#66f566" stroke-width="1.05" stroke-dasharray="1 1.9"/>
<line x1="48" y1="371.3" x2="48" y2="381.4" stroke="#66f566" stroke-width="1.05" stroke-dasharray="1 1.9"/>
<line x1="48" y1="652.2" x2="48" y2="662.3" stroke="#66f566" stroke-width="1.05" stroke-dasharray="1 1.9"/>
<line x1="38.1" y1="651.6" x2="48" y2="651.6" stroke="#ff5252" stroke-width="1.15" stroke-dasharray="1 1.9"/>
<line x1="319.1" y1="651.6" x2="328.6" y2="651.6" stroke="#ff5252" stroke-width="1.15" stroke-dasharray="1 1.9"/>
<line x1="38.1" y1="597.56" x2="48" y2="597.56" stroke="#ff5252" stroke-width="1.15" stroke-dasharray="1 1.9"/>
<line x1="319.1" y1="597.56" x2="328.6" y2="597.56" stroke="#ff5252" stroke-width="1.15" stroke-dasharray="1 1.9"/>
<line x1="38.1" y1="543.52" x2="48" y2="543.52" stroke="#ff5252" stroke-width="1.15" stroke-dasharray="1 1.9"/>
<line x1="319.1" y1="543.52" x2="328.6" y2="543.52" stroke="#ff5252" stroke-width="1.15" stroke-dasharray="1 1.9"/>
<line x1="38.1" y1="489.48" x2="48" y2="489.48" stroke="#ff5252" stroke-width="1.15" stroke-dasharray="1 1.9"/>
<line x1="319.1" y1="489.48" x2="328.6" y2="489.48" stroke="#ff5252" stroke-width="1.15" stroke-dasharray="1 1.9"/>
<line x1="38.1" y1="435.44" x2="48" y2="435.44" stroke="#ff5252" stroke-width="1.15" stroke-dasharray="1 1.9"/>
<line x1="319.1" y1="435.44" x2="328.6" y2="435.44" stroke="#ff5252" stroke-width="1.15" stroke-dasharray="1 1.9"/>
<line x1="38.1" y1="381.4" x2="48" y2="381.4" stroke="#ff5252" stroke-width="1.15" stroke-dasharray="1 1.9"/>
<line x1="319.1" y1="381.4" x2="328.6" y2="381.4" stroke="#ff5252" stroke-width="1.15" stroke-dasharray="1 1.9"/>
<rect x="48" y="381.4" width="270.3" height="270.2" fill="#ebebeb"/>
<path d="M48 651.6 L48.01 650.1 L48 648.59 L48 647.09 L48.05 645.59 L48 644.09 L48 642.58 L48 641.08 L48.11 639.58 L48.12 638.08 L48.33 636.58 L48.82 635.1 L48.85 633.6 L48.77 632.09 L49.14 630.61 L49.2 629.11 L49.25 627.61 L49.12 626.09 L48.93 624.57 L49.43 623.11 L49.69 621.62 L49.59 620.11 L49.76 618.61 L49.96 617.12 L50.01 615.62 L50.01 614.11 L50.09 612.61 L50.34 611.12 L50.34 609.61 L50.05 608.08 L50.25 606.59 L51.19 605.17 L50.9 603.63 L50.5 602.06 L51.14 600.63 L51.58 599.18 L52.04 597.73 L52.41 596.26 L52.67 594.78 L52.96 593.31 L52.85 591.77 L52.84 590.25 L53.13 588.77 L53.5 587.31 L53.81 585.84 L53.87 584.32 L54.56 582.93 L54.99 581.48 L54.85 579.92 L55.31 578.48 L55.51 576.99 L55.58 575.47 L55.96 574.01 L56.01 572.49 L55.99 570.95 L56.63 569.55 L57.3 568.15 L57.51 566.66 L58.07 565.25 L58.35 563.77 L58.82 562.33 L59 560.84 L58.54 559.2 L59.12 557.79 L59.99 556.44 L60.63 555.04 L60.8 553.54 L60.77 552 L61.15 550.54 L61.96 549.18 L62 547.65 L61.99 546.1 L62.67 544.73 L62.89 543.23 L63.32 541.78 L64 540.43 L64.44 538.99 L64.94 537.57 L65.71 536.26 L66.35 534.89 L66.68 533.41 L67.04 531.94 L67.66 530.57 L68.39 529.24 L68.97 527.86 L69.59 526.49 L70.2 525.11 L70.3 523.54 L70.95 522.18 L71.68 520.85 L72.2 519.44 L72.92 518.12 L73.61 516.78 L74.25 515.42 L74.75 514 L75.13 512.51 L75.99 511.27 L76.96 510.09 L77.43 508.63 L78.38 507.44 L79.29 506.23 L79.89 504.85 L80.64 503.54 L81.37 502.23 L81.88 500.79 L82.4 499.37 L83.42 498.21 L84.47 497.06 L85.09 495.69 L85.65 494.29 L86.39 492.99 L87.21 491.72 L87.82 490.36 L88.55 489.06 L89.43 487.86 L90.07 486.49 L90.95 485.27 L91.77 484.01 L92.23 482.48 L93.37 481.45 L94.54 480.45 L95.63 479.4 L96.45 478.13 L97.25 476.85 L98.33 475.79 L99.19 474.55 L100.01 473.29 L101.25 472.36 L102.31 471.28 L103.21 470.09 L104.21 468.97 L104.77 467.46 L105.67 466.25 L107.01 465.44 L108.04 464.35 L108.89 463.08 L110.15 462.2 L111.29 461.2 L111.98 459.8 L112.8 458.52 L114.14 457.7 L115.1 456.55 L116.02 455.36 L117.12 454.32 L117.83 452.94 L118.84 451.83 L119.93 450.78 L120.93 449.67 L121.98 448.59 L123.17 447.69 L124.44 446.88 L125.68 446.03 L126.79 445.01 L127.87 443.96 L129.27 443.32 L130.55 442.48 L131.6 441.38 L132.55 440.21 L133.31 438.87 L134.23 437.69 L135.4 436.71 L136.35 435.55 L137.34 434.41 L138.2 433.18 L139.17 432.03 L140.15 430.89 L140.9 429.56 L141.76 428.29 L143.07 427.47 L144.22 426.51 L145.12 425.25 L146.23 424.23 L147.73 423.69 L149.28 423.21 L150.13 421.87 L150.89 420.42 L152.08 419.49 L153.39 418.73 L154.6 417.84 L155.89 417.05 L157.02 416.06 L158.17 415.08 L159.55 414.44 L160.86 413.72 L162.16 412.96 L163.38 412.08 L164.65 411.27 L166.08 410.74 L167.29 409.84 L168.63 409.15 L170.02 408.56 L171.34 407.84 L172.54 406.91 L173.82 406.12 L175.25 405.6 L176.62 404.98 L177.99 404.34 L179.14 403.32 L180.56 402.79 L181.93 402.16 L183.13 401.19 L184.46 400.51 L185.83 399.89 L187.18 399.24 L188.54 398.59 L190.02 398.19 L191.49 397.8 L192.87 397.22 L194.31 396.79 L195.65 396.11 L196.9 395.21 L198.18 394.36 L199.55 393.74 L201.03 393.4 L202.55 393.15 L203.91 392.52 L205.34 392.06 L206.89 391.94 L208.2 391.15 L209.52 390.34 L210.95 389.91 L212.36 389.37 L213.74 388.74 L215.21 388.37 L216.74 388.29 L218.13 387.66 L219.61 387.38 L221.23 387.73 L222.71 387.5 L224.18 387.19 L225.55 386.41 L226.93 385.63 L228.51 385.87 L230.03 385.82 L231.49 385.47 L232.96 385.14 L234.41 384.73 L235.84 384.23 L237.27 383.73 L238.81 383.78 L240.31 383.59 L241.76 383.18 L243.25 383.03 L244.73 382.77 L246.2 382.43 L247.7 382.32 L249.21 382.31 L250.72 382.32 L252.21 382.16 L253.71 382.03 L255.21 381.97 L256.71 381.89 L258.21 381.82 L259.71 381.74 L261.21 381.66 L262.71 381.6 L264.21 381.55 L265.72 381.52 L267.22 381.5 L268.72 381.49 L270.22 381.49 L271.73 381.49 L273.23 381.48 L274.73 381.48 L276.23 381.48 L277.74 381.48 L279.24 381.47 L280.74 381.47 L282.24 381.47 L283.74 381.46 L285.25 381.46 L286.75 381.46 L288.25 381.46 L289.75 381.45 L291.26 381.45 L292.76 381.45 L294.26 381.44 L295.76 381.44 L297.27 381.44 L298.77 381.44 L300.27 381.43 L301.77 381.43 L303.28 381.43 L304.78 381.43 L306.28 381.42 L307.78 381.42 L309.29 381.42 L310.79 381.41 L312.29 381.41 L313.79 381.41 L315.3 381.41 L316.8 381.4 L318.3 381.4 L318.3 651.6 L48 651.6 Z" fill="#9ecee0"/>
<line x1="48" y1="380.9" x2="48" y2="652.1" stroke="#a8a8a8" stroke-width="2.0"/>
<line x1="318.3" y1="380.9" x2="318.3" y2="652.1" stroke="#8a8a8a" stroke-width="1.0"/>
<line x1="47.5" y1="381.4" x2="318.8" y2="381.4" stroke="#8a8a8a" stroke-width="1.0"/>
<line x1="47.5" y1="651.5" x2="318.8" y2="651.5" stroke="#3e3e3e" stroke-width="1.2"/>
<line x1="37.3" y1="662.3" x2="328.6" y2="370.5" stroke="#969696" stroke-width="0.75"/>
<path d="M48 651.6 L48.01 650.1 L48 648.59 L48 647.09 L48.05 645.59 L48 644.09 L48 642.58 L48 641.08 L48.11 639.58 L48.12 638.08 L48.33 636.58 L48.82 635.1 L48.85 633.6 L48.77 632.09 L49.14 630.61 L49.2 629.11 L49.25 627.61 L49.12 626.09 L48.93 624.57 L49.43 623.11 L49.69 621.62 L49.59 620.11 L49.76 618.61 L49.96 617.12 L50.01 615.62 L50.01 614.11 L50.09 612.61 L50.34 611.12 L50.34 609.61 L50.05 608.08 L50.25 606.59 L51.19 605.17 L50.9 603.63 L50.5 602.06 L51.14 600.63 L51.58 599.18 L52.04 597.73 L52.41 596.26 L52.67 594.78 L52.96 593.31 L52.85 591.77 L52.84 590.25 L53.13 588.77 L53.5 587.31 L53.81 585.84 L53.87 584.32 L54.56 582.93 L54.99 581.48 L54.85 579.92 L55.31 578.48 L55.51 576.99 L55.58 575.47 L55.96 574.01 L56.01 572.49 L55.99 570.95 L56.63 569.55 L57.3 568.15 L57.51 566.66 L58.07 565.25 L58.35 563.77 L58.82 562.33 L59 560.84 L58.54 559.2 L59.12 557.79 L59.99 556.44 L60.63 555.04 L60.8 553.54 L60.77 552 L61.15 550.54 L61.96 549.18 L62 547.65 L61.99 546.1 L62.67 544.73 L62.89 543.23 L63.32 541.78 L64 540.43 L64.44 538.99 L64.94 537.57 L65.71 536.26 L66.35 534.89 L66.68 533.41 L67.04 531.94 L67.66 530.57 L68.39 529.24 L68.97 527.86 L69.59 526.49 L70.2 525.11 L70.3 523.54 L70.95 522.18 L71.68 520.85 L72.2 519.44 L72.92 518.12 L73.61 516.78 L74.25 515.42 L74.75 514 L75.13 512.51 L75.99 511.27 L76.96 510.09 L77.43 508.63 L78.38 507.44 L79.29 506.23 L79.89 504.85 L80.64 503.54 L81.37 502.23 L81.88 500.79 L82.4 499.37 L83.42 498.21 L84.47 497.06 L85.09 495.69 L85.65 494.29 L86.39 492.99 L87.21 491.72 L87.82 490.36 L88.55 489.06 L89.43 487.86 L90.07 486.49 L90.95 485.27 L91.77 484.01 L92.23 482.48 L93.37 481.45 L94.54 480.45 L95.63 479.4 L96.45 478.13 L97.25 476.85 L98.33 475.79 L99.19 474.55 L100.01 473.29 L101.25 472.36 L102.31 471.28 L103.21 470.09 L104.21 468.97 L104.77 467.46 L105.67 466.25 L107.01 465.44 L108.04 464.35 L108.89 463.08 L110.15 462.2 L111.29 461.2 L111.98 459.8 L112.8 458.52 L114.14 457.7 L115.1 456.55 L116.02 455.36 L117.12 454.32 L117.83 452.94 L118.84 451.83 L119.93 450.78 L120.93 449.67 L121.98 448.59 L123.17 447.69 L124.44 446.88 L125.68 446.03 L126.79 445.01 L127.87 443.96 L129.27 443.32 L130.55 442.48 L131.6 441.38 L132.55 440.21 L133.31 438.87 L134.23 437.69 L135.4 436.71 L136.35 435.55 L137.34 434.41 L138.2 433.18 L139.17 432.03 L140.15 430.89 L140.9 429.56 L141.76 428.29 L143.07 427.47 L144.22 426.51 L145.12 425.25 L146.23 424.23 L147.73 423.69 L149.28 423.21 L150.13 421.87 L150.89 420.42 L152.08 419.49 L153.39 418.73 L154.6 417.84 L155.89 417.05 L157.02 416.06 L158.17 415.08 L159.55 414.44 L160.86 413.72 L162.16 412.96 L163.38 412.08 L164.65 411.27 L166.08 410.74 L167.29 409.84 L168.63 409.15 L170.02 408.56 L171.34 407.84 L172.54 406.91 L173.82 406.12 L175.25 405.6 L176.62 404.98 L177.99 404.34 L179.14 403.32 L180.56 402.79 L181.93 402.16 L183.13 401.19 L184.46 400.51 L185.83 399.89 L187.18 399.24 L188.54 398.59 L190.02 398.19 L191.49 397.8 L192.87 397.22 L194.31 396.79 L195.65 396.11 L196.9 395.21 L198.18 394.36 L199.55 393.74 L201.03 393.4 L202.55 393.15 L203.91 392.52 L205.34 392.06 L206.89 391.94 L208.2 391.15 L209.52 390.34 L210.95 389.91 L212.36 389.37 L213.74 388.74 L215.21 388.37 L216.74 388.29 L218.13 387.66 L219.61 387.38 L221.23 387.73 L222.71 387.5 L224.18 387.19 L225.55 386.41 L226.93 385.63 L228.51 385.87 L230.03 385.82 L231.49 385.47 L232.96 385.14 L234.41 384.73 L235.84 384.23 L237.27 383.73 L238.81 383.78 L240.31 383.59 L241.76 383.18 L243.25 383.03 L244.73 382.77 L246.2 382.43 L247.7 382.32 L249.21 382.31 L250.72 382.32 L252.21 382.16 L253.71 382.03 L255.21 381.97 L256.71 381.89 L258.21 381.82 L259.71 381.74 L261.21 381.66 L262.71 381.6 L264.21 381.55 L265.72 381.52 L267.22 381.5 L268.72 381.49 L270.22 381.49 L271.73 381.49 L273.23 381.48 L274.73 381.48 L276.23 381.48 L277.74 381.48 L279.24 381.47 L280.74 381.47 L282.24 381.47 L283.74 381.46 L285.25 381.46 L286.75 381.46 L288.25 381.46 L289.75 381.45 L291.26 381.45 L292.76 381.45 L294.26 381.44 L295.76 381.44 L297.27 381.44 L298.77 381.44 L300.27 381.43 L301.77 381.43 L303.28 381.43 L304.78 381.43 L306.28 381.42 L307.78 381.42 L309.29 381.42 L310.79 381.41 L312.29 381.41 L313.79 381.41 L315.3 381.41 L316.8 381.4 L318.3 381.4" fill="none" stroke="#1212fa" stroke-width="1.4" stroke-linejoin="round"/>
<line x1="37" y1="369.84" x2="37" y2="662.9" stroke="#979797" stroke-width="2.0"/>
<line x1="328.6" y1="369.84" x2="328.6" y2="662.9" stroke="#808080" stroke-width="1.3"/>
<line x1="36" y1="370.44" x2="329.25" y2="370.44" stroke="#666" stroke-width="1.2"/>
<line x1="36" y1="662.3" x2="329.25" y2="662.3" stroke="#444" stroke-width="1.2"/>
<line x1="318.3" y1="662.3" x2="318.3" y2="667.5" stroke="#555" stroke-width="1"/>
<line x1="31.9" y1="651.6" x2="37.3" y2="651.6" stroke="#555" stroke-width="1"/>
<text transform="translate(318.3 681.2) scale(0.93 1.02)" font-size="11.7" text-anchor="middle" fill="#000">0.0</text>
<text transform="translate(25.1 651.6) rotate(-90) scale(0.95 1.0)" font-size="11.7" text-anchor="middle" fill="#000">0.0</text>
<line x1="264.24" y1="662.3" x2="264.24" y2="667.5" stroke="#555" stroke-width="1"/>
<line x1="31.9" y1="597.56" x2="37.3" y2="597.56" stroke="#555" stroke-width="1"/>
<text transform="translate(264.24 681.2) scale(0.93 1.02)" font-size="11.7" text-anchor="middle" fill="#000">0.2</text>
<text transform="translate(25.1 597.56) rotate(-90) scale(0.95 1.0)" font-size="11.7" text-anchor="middle" fill="#000">0.2</text>
<line x1="210.18" y1="662.3" x2="210.18" y2="667.5" stroke="#555" stroke-width="1"/>
<line x1="31.9" y1="543.52" x2="37.3" y2="543.52" stroke="#555" stroke-width="1"/>
<text transform="translate(210.18 681.2) scale(0.93 1.02)" font-size="11.7" text-anchor="middle" fill="#000">0.4</text>
<text transform="translate(25.1 543.52) rotate(-90) scale(0.95 1.0)" font-size="11.7" text-anchor="middle" fill="#000">0.4</text>
<line x1="156.12" y1="662.3" x2="156.12" y2="667.5" stroke="#555" stroke-width="1"/>
<line x1="31.9" y1="489.48" x2="37.3" y2="489.48" stroke="#555" stroke-width="1"/>
<text transform="translate(156.12 681.2) scale(0.93 1.02)" font-size="11.7" text-anchor="middle" fill="#000">0.6</text>
<text transform="translate(25.1 489.48) rotate(-90) scale(0.95 1.0)" font-size="11.7" text-anchor="middle" fill="#000">0.6</text>
<line x1="102.06" y1="662.3" x2="102.06" y2="667.5" stroke="#555" stroke-width="1"/>
<line x1="31.9" y1="435.44" x2="37.3" y2="435.44" stroke="#555" stroke-width="1"/>
<text transform="translate(102.06 681.2) scale(0.93 1.02)" font-size="11.7" text-anchor="middle" fill="#000">0.8</text>
<text transform="translate(25.1 435.44) rotate(-90) scale(0.95 1.0)" font-size="11.7" text-anchor="middle" fill="#000">0.8</text>
<line x1="48" y1="662.3" x2="48" y2="667.5" stroke="#555" stroke-width="1"/>
<line x1="31.9" y1="381.4" x2="37.3" y2="381.4" stroke="#555" stroke-width="1"/>
<text transform="translate(48 681.2) scale(0.93 1.02)" font-size="11.7" text-anchor="middle" fill="#000">1.0</text>
<text transform="translate(25.1 381.4) rotate(-90) scale(0.95 1.0)" font-size="11.7" text-anchor="middle" fill="#000">1.0</text>
<text x="182.65" y="695.9" font-size="11.85" text-anchor="middle" fill="#000">Specificity</text>
<text transform="translate(10 516.4) rotate(-90)" font-size="11.75" text-anchor="middle" fill="#000">Sensitivity</text>
<text x="183.05" y="364.7" font-size="12.65" font-weight="bold" text-anchor="middle" fill="#000">3-year XGBoost prognostic model (test data)</text>
<circle cx="142.33" cy="428.14" r="1.5" fill="#111"/>
<text x="146.13" y="436.04" font-size="8.4" fill="#000" stroke="#000" stroke-width="0.06">0.109 (0.651, 0.827)</text>
<text x="183.45" y="522.6" font-size="8.4" fill="#0808f8" stroke="#0808f8" stroke-width="0.06">AUC: 0.829</text>
</g>
<g>
<line x1="672.4" y1="371.3" x2="672.4" y2="381.4" stroke="#66f566" stroke-width="1.05" stroke-dasharray="1 1.9"/>
<line x1="672.4" y1="652.2" x2="672.4" y2="662.3" stroke="#66f566" stroke-width="1.05" stroke-dasharray="1 1.9"/>
<line x1="645.4" y1="371.3" x2="645.4" y2="381.4" stroke="#66f566" stroke-width="1.05" stroke-dasharray="1 1.9"/>
<line x1="645.4" y1="652.2" x2="645.4" y2="662.3" stroke="#66f566" stroke-width="1.05" stroke-dasharray="1 1.9"/>
<line x1="618.4" y1="371.3" x2="618.4" y2="381.4" stroke="#66f566" stroke-width="1.05" stroke-dasharray="1 1.9"/>
<line x1="618.4" y1="652.2" x2="618.4" y2="662.3" stroke="#66f566" stroke-width="1.05" stroke-dasharray="1 1.9"/>
<line x1="591.4" y1="371.3" x2="591.4" y2="381.4" stroke="#66f566" stroke-width="1.05" stroke-dasharray="1 1.9"/>
<line x1="591.4" y1="652.2" x2="591.4" y2="662.3" stroke="#66f566" stroke-width="1.05" stroke-dasharray="1 1.9"/>
<line x1="564.4" y1="371.3" x2="564.4" y2="381.4" stroke="#66f566" stroke-width="1.05" stroke-dasharray="1 1.9"/>
<line x1="564.4" y1="652.2" x2="564.4" y2="662.3" stroke="#66f566" stroke-width="1.05" stroke-dasharray="1 1.9"/>
<line x1="537.4" y1="371.3" x2="537.4" y2="381.4" stroke="#66f566" stroke-width="1.05" stroke-dasharray="1 1.9"/>
<line x1="537.4" y1="652.2" x2="537.4" y2="662.3" stroke="#66f566" stroke-width="1.05" stroke-dasharray="1 1.9"/>
<line x1="510.4" y1="371.3" x2="510.4" y2="381.4" stroke="#66f566" stroke-width="1.05" stroke-dasharray="1 1.9"/>
<line x1="510.4" y1="652.2" x2="510.4" y2="662.3" stroke="#66f566" stroke-width="1.05" stroke-dasharray="1 1.9"/>
<line x1="483.4" y1="371.3" x2="483.4" y2="381.4" stroke="#66f566" stroke-width="1.05" stroke-dasharray="1 1.9"/>
<line x1="483.4" y1="652.2" x2="483.4" y2="662.3" stroke="#66f566" stroke-width="1.05" stroke-dasharray="1 1.9"/>
<line x1="456.4" y1="371.3" x2="456.4" y2="381.4" stroke="#66f566" stroke-width="1.05" stroke-dasharray="1 1.9"/>
<line x1="456.4" y1="652.2" x2="456.4" y2="662.3" stroke="#66f566" stroke-width="1.05" stroke-dasharray="1 1.9"/>
<line x1="429.4" y1="371.3" x2="429.4" y2="381.4" stroke="#66f566" stroke-width="1.05" stroke-dasharray="1 1.9"/>
<line x1="429.4" y1="652.2" x2="429.4" y2="662.3" stroke="#66f566" stroke-width="1.05" stroke-dasharray="1 1.9"/>
<line x1="402.4" y1="371.3" x2="402.4" y2="381.4" stroke="#66f566" stroke-width="1.05" stroke-dasharray="1 1.9"/>
<line x1="402.4" y1="652.2" x2="402.4" y2="662.3" stroke="#66f566" stroke-width="1.05" stroke-dasharray="1 1.9"/>
<line x1="392.4" y1="651.6" x2="402.4" y2="651.6" stroke="#ff5252" stroke-width="1.15" stroke-dasharray="1 1.9"/>
<line x1="673.2" y1="651.6" x2="683.5" y2="651.6" stroke="#ff5252" stroke-width="1.15" stroke-dasharray="1 1.9"/>
<line x1="392.4" y1="597.56" x2="402.4" y2="597.56" stroke="#ff5252" stroke-width="1.15" stroke-dasharray="1 1.9"/>
<line x1="673.2" y1="597.56" x2="683.5" y2="597.56" stroke="#ff5252" stroke-width="1.15" stroke-dasharray="1 1.9"/>
<line x1="392.4" y1="543.52" x2="402.4" y2="543.52" stroke="#ff5252" stroke-width="1.15" stroke-dasharray="1 1.9"/>
<line x1="673.2" y1="543.52" x2="683.5" y2="543.52" stroke="#ff5252" stroke-width="1.15" stroke-dasharray="1 1.9"/>
<line x1="392.4" y1="489.48" x2="402.4" y2="489.48" stroke="#ff5252" stroke-width="1.15" stroke-dasharray="1 1.9"/>
<line x1="673.2" y1="489.48" x2="683.5" y2="489.48" stroke="#ff5252" stroke-width="1.15" stroke-dasharray="1 1.9"/>
<line x1="392.4" y1="435.44" x2="402.4" y2="435.44" stroke="#ff5252" stroke-width="1.15" stroke-dasharray="1 1.9"/>
<line x1="673.2" y1="435.44" x2="683.5" y2="435.44" stroke="#ff5252" stroke-width="1.15" stroke-dasharray="1 1.9"/>
<line x1="392.4" y1="381.4" x2="402.4" y2="381.4" stroke="#ff5252" stroke-width="1.15" stroke-dasharray="1 1.9"/>
<line x1="673.2" y1="381.4" x2="683.5" y2="381.4" stroke="#ff5252" stroke-width="1.15" stroke-dasharray="1 1.9"/>
<rect x="402.4" y="381.4" width="270" height="270.2" fill="#ebebeb"/>
<path d="M402.4 651.6 L402.48 650.1 L402.4 648.59 L402.4 647.09 L402.53 645.59 L402.49 644.09 L402.47 642.58 L402.56 641.08 L402.56 639.58 L402.55 638.07 L402.61 636.57 L402.75 635.07 L402.65 633.56 L402.65 632.06 L402.78 630.56 L402.75 629.06 L402.67 627.55 L402.68 626.05 L402.95 624.55 L402.89 623.05 L402.65 621.54 L402.64 620.03 L402.89 618.54 L403.29 617.05 L403.41 615.55 L403.41 614.04 L403.39 612.54 L403.44 611.04 L403.5 609.54 L403.54 608.04 L403.67 606.54 L403.7 605.03 L403.87 603.54 L404.01 602.04 L404.24 600.55 L404.44 599.06 L404.5 597.56 L404.59 596.06 L404.81 594.57 L404.93 593.07 L405.04 591.57 L405.24 590.08 L405.28 588.57 L405.44 587.08 L405.63 585.59 L405.83 584.1 L406.05 582.61 L406.28 581.12 L406.53 579.64 L406.68 578.14 L406.83 576.65 L407.08 575.17 L407.27 573.67 L407.54 572.2 L407.91 570.74 L408.13 569.25 L408.52 567.79 L408.84 566.32 L408.9 564.81 L409.05 563.31 L409.31 561.83 L409.56 560.34 L409.95 558.89 L410.22 557.41 L410.42 555.92 L410.75 554.45 L411.18 553.01 L411.44 551.52 L411.67 550.03 L412.12 548.6 L412.52 547.15 L412.91 545.69 L413.21 544.22 L413.6 542.77 L414 541.32 L414.48 539.89 L414.71 538.4 L414.95 536.91 L415.41 535.48 L415.72 534 L416.41 532.64 L417.06 531.27 L417.19 529.74 L417.47 528.25 L418.06 526.86 L418.35 525.38 L418.8 523.94 L419.44 522.57 L419.91 521.14 L420.15 519.64 L420.67 518.22 L421.29 516.84 L421.64 515.38 L422.02 513.92 L422.55 512.51 L423.16 511.14 L423.56 509.68 L423.99 508.24 L424.59 506.86 L424.93 505.39 L425.38 503.95 L425.89 502.54 L426.31 501.09 L427.02 499.75 L427.61 498.36 L428.08 496.94 L428.63 495.54 L429.29 494.18 L429.95 492.83 L430.4 491.39 L430.95 489.99 L431.56 488.62 L432.32 487.31 L432.92 485.93 L433.35 484.48 L434.04 483.14 L434.72 481.8 L435.46 480.5 L436.23 479.2 L436.82 477.81 L437.48 476.46 L438.23 475.15 L439.09 473.92 L440.11 472.77 L440.88 471.48 L441.48 470.09 L442.23 468.79 L442.99 467.49 L443.82 466.24 L444.64 464.98 L445.3 463.63 L445.99 462.28 L446.81 461.02 L447.78 459.87 L448.63 458.63 L449.5 457.4 L450.59 456.34 L451.52 455.16 L452.49 454.01 L453.51 452.91 L454.31 451.63 L455.1 450.32 L456.09 449.19 L457.14 448.11 L458.16 447.01 L459.29 446.01 L460.21 444.82 L461.12 443.61 L462.27 442.63 L463.44 441.68 L464.55 440.67 L465.62 439.62 L466.78 438.67 L467.91 437.68 L468.95 436.59 L470.06 435.57 L471.16 434.55 L472.33 433.6 L473.55 432.72 L474.5 431.51 L475.65 430.55 L476.96 429.76 L478.07 428.74 L479.26 427.83 L480.28 426.7 L481.36 425.64 L482.64 424.84 L483.85 423.94 L485.07 423.06 L486.27 422.16 L487.36 421.12 L488.62 420.29 L489.97 419.58 L491.18 418.7 L492.31 417.7 L493.5 416.77 L494.78 415.99 L496.06 415.18 L497.31 414.36 L498.51 413.44 L499.64 412.44 L500.89 411.59 L502.25 410.94 L503.59 410.26 L504.95 409.6 L506.22 408.79 L507.42 407.88 L508.71 407.1 L509.99 406.31 L511.34 405.65 L512.7 405 L513.99 404.24 L515.28 403.45 L516.62 402.78 L517.99 402.16 L519.39 401.6 L520.79 401.04 L522.07 400.23 L523.44 399.61 L524.82 399.02 L526.16 398.33 L527.59 397.87 L528.93 397.18 L530.28 396.51 L531.67 395.93 L533.01 395.23 L534.49 394.89 L535.96 394.55 L537.32 393.91 L538.68 393.27 L540.09 392.76 L541.57 392.41 L542.98 391.88 L544.3 391.15 L545.64 390.47 L547.05 389.94 L548.42 389.34 L549.88 388.96 L551.36 388.69 L552.8 388.26 L554.23 387.79 L555.67 387.38 L557.16 387.12 L558.57 386.58 L560.03 386.2 L561.53 386.04 L562.99 385.68 L564.45 385.32 L565.94 385.11 L567.42 384.86 L568.88 384.46 L570.37 384.25 L571.87 384.11 L573.34 383.84 L574.83 383.59 L576.31 383.38 L577.8 383.13 L579.28 382.85 L580.76 382.65 L582.27 382.55 L583.76 382.35 L585.25 382.18 L586.75 382.05 L588.24 381.9 L589.74 381.8 L591.24 381.72 L592.74 381.66 L594.24 381.62 L595.74 381.6 L597.25 381.59 L598.75 381.58 L600.25 381.58 L601.76 381.57 L603.26 381.57 L604.76 381.57 L606.26 381.56 L607.77 381.56 L609.27 381.56 L610.77 381.55 L612.28 381.55 L613.78 381.54 L615.28 381.54 L616.79 381.54 L618.29 381.53 L619.79 381.53 L621.3 381.53 L622.8 381.52 L624.3 381.52 L625.8 381.51 L627.31 381.51 L628.81 381.51 L630.31 381.5 L631.82 381.5 L633.32 381.5 L634.82 381.49 L636.33 381.49 L637.83 381.49 L639.33 381.48 L640.84 381.48 L642.34 381.47 L643.84 381.47 L645.34 381.47 L646.85 381.46 L648.35 381.46 L649.85 381.46 L651.36 381.45 L652.86 381.45 L654.36 381.44 L655.87 381.44 L657.37 381.44 L658.87 381.43 L660.38 381.43 L661.88 381.43 L663.38 381.42 L664.88 381.42 L666.39 381.41 L667.89 381.41 L669.39 381.41 L670.9 381.4 L672.4 381.4 L672.4 651.6 L402.4 651.6 Z" fill="#9ecee0"/>
<line x1="402.4" y1="380.9" x2="402.4" y2="652.1" stroke="#4a4a4a" stroke-width="1.2"/>
<line x1="672.4" y1="380.9" x2="672.4" y2="652.1" stroke="#4a4a4a" stroke-width="1.1"/>
<line x1="401.9" y1="381.4" x2="672.9" y2="381.4" stroke="#8a8a8a" stroke-width="1.0"/>
<line x1="401.9" y1="651.5" x2="672.9" y2="651.5" stroke="#3e3e3e" stroke-width="1.2"/>
<line x1="391.6" y1="662.3" x2="683.5" y2="370.5" stroke="#969696" stroke-width="0.75"/>
<path d="M402.4 651.6 L402.48 650.1 L402.4 648.59 L402.4 647.09 L402.53 645.59 L402.49 644.09 L402.47 642.58 L402.56 641.08 L402.56 639.58 L402.55 638.07 L402.61 636.57 L402.75 635.07 L402.65 633.56 L402.65 632.06 L402.78 630.56 L402.75 629.06 L402.67 627.55 L402.68 626.05 L402.95 624.55 L402.89 623.05 L402.65 621.54 L402.64 620.03 L402.89 618.54 L403.29 617.05 L403.41 615.55 L403.41 614.04 L403.39 612.54 L403.44 611.04 L403.5 609.54 L403.54 608.04 L403.67 606.54 L403.7 605.03 L403.87 603.54 L404.01 602.04 L404.24 600.55 L404.44 599.06 L404.5 597.56 L404.59 596.06 L404.81 594.57 L404.93 593.07 L405.04 591.57 L405.24 590.08 L405.28 588.57 L405.44 587.08 L405.63 585.59 L405.83 584.1 L406.05 582.61 L406.28 581.12 L406.53 579.64 L406.68 578.14 L406.83 576.65 L407.08 575.17 L407.27 573.67 L407.54 572.2 L407.91 570.74 L408.13 569.25 L408.52 567.79 L408.84 566.32 L408.9 564.81 L409.05 563.31 L409.31 561.83 L409.56 560.34 L409.95 558.89 L410.22 557.41 L410.42 555.92 L410.75 554.45 L411.18 553.01 L411.44 551.52 L411.67 550.03 L412.12 548.6 L412.52 547.15 L412.91 545.69 L413.21 544.22 L413.6 542.77 L414 541.32 L414.48 539.89 L414.71 538.4 L414.95 536.91 L415.41 535.48 L415.72 534 L416.41 532.64 L417.06 531.27 L417.19 529.74 L417.47 528.25 L418.06 526.86 L418.35 525.38 L418.8 523.94 L419.44 522.57 L419.91 521.14 L420.15 519.64 L420.67 518.22 L421.29 516.84 L421.64 515.38 L422.02 513.92 L422.55 512.51 L423.16 511.14 L423.56 509.68 L423.99 508.24 L424.59 506.86 L424.93 505.39 L425.38 503.95 L425.89 502.54 L426.31 501.09 L427.02 499.75 L427.61 498.36 L428.08 496.94 L428.63 495.54 L429.29 494.18 L429.95 492.83 L430.4 491.39 L430.95 489.99 L431.56 488.62 L432.32 487.31 L432.92 485.93 L433.35 484.48 L434.04 483.14 L434.72 481.8 L435.46 480.5 L436.23 479.2 L436.82 477.81 L437.48 476.46 L438.23 475.15 L439.09 473.92 L440.11 472.77 L440.88 471.48 L441.48 470.09 L442.23 468.79 L442.99 467.49 L443.82 466.24 L444.64 464.98 L445.3 463.63 L445.99 462.28 L446.81 461.02 L447.78 459.87 L448.63 458.63 L449.5 457.4 L450.59 456.34 L451.52 455.16 L452.49 454.01 L453.51 452.91 L454.31 451.63 L455.1 450.32 L456.09 449.19 L457.14 448.11 L458.16 447.01 L459.29 446.01 L460.21 444.82 L461.12 443.61 L462.27 442.63 L463.44 441.68 L464.55 440.67 L465.62 439.62 L466.78 438.67 L467.91 437.68 L468.95 436.59 L470.06 435.57 L471.16 434.55 L472.33 433.6 L473.55 432.72 L474.5 431.51 L475.65 430.55 L476.96 429.76 L478.07 428.74 L479.26 427.83 L480.28 426.7 L481.36 425.64 L482.64 424.84 L483.85 423.94 L485.07 423.06 L486.27 422.16 L487.36 421.12 L488.62 420.29 L489.97 419.58 L491.18 418.7 L492.31 417.7 L493.5 416.77 L494.78 415.99 L496.06 415.18 L497.31 414.36 L498.51 413.44 L499.64 412.44 L500.89 411.59 L502.25 410.94 L503.59 410.26 L504.95 409.6 L506.22 408.79 L507.42 407.88 L508.71 407.1 L509.99 406.31 L511.34 405.65 L512.7 405 L513.99 404.24 L515.28 403.45 L516.62 402.78 L517.99 402.16 L519.39 401.6 L520.79 401.04 L522.07 400.23 L523.44 399.61 L524.82 399.02 L526.16 398.33 L527.59 397.87 L528.93 397.18 L530.28 396.51 L531.67 395.93 L533.01 395.23 L534.49 394.89 L535.96 394.55 L537.32 393.91 L538.68 393.27 L540.09 392.76 L541.57 392.41 L542.98 391.88 L544.3 391.15 L545.64 390.47 L547.05 389.94 L548.42 389.34 L549.88 388.96 L551.36 388.69 L552.8 388.26 L554.23 387.79 L555.67 387.38 L557.16 387.12 L558.57 386.58 L560.03 386.2 L561.53 386.04 L562.99 385.68 L564.45 385.32 L565.94 385.11 L567.42 384.86 L568.88 384.46 L570.37 384.25 L571.87 384.11 L573.34 383.84 L574.83 383.59 L576.31 383.38 L577.8 383.13 L579.28 382.85 L580.76 382.65 L582.27 382.55 L583.76 382.35 L585.25 382.18 L586.75 382.05 L588.24 381.9 L589.74 381.8 L591.24 381.72 L592.74 381.66 L594.24 381.62 L595.74 381.6 L597.25 381.59 L598.75 381.58 L600.25 381.58 L601.76 381.57 L603.26 381.57 L604.76 381.57 L606.26 381.56 L607.77 381.56 L609.27 381.56 L610.77 381.55 L612.28 381.55 L613.78 381.54 L615.28 381.54 L616.79 381.54 L618.29 381.53 L619.79 381.53 L621.3 381.53 L622.8 381.52 L624.3 381.52 L625.8 381.51 L627.31 381.51 L628.81 381.51 L630.31 381.5 L631.82 381.5 L633.32 381.5 L634.82 381.49 L636.33 381.49 L637.83 381.49 L639.33 381.48 L640.84 381.48 L642.34 381.47 L643.84 381.47 L645.34 381.47 L646.85 381.46 L648.35 381.46 L649.85 381.46 L651.36 381.45 L652.86 381.45 L654.36 381.44 L655.87 381.44 L657.37 381.44 L658.87 381.43 L660.38 381.43 L661.88 381.43 L663.38 381.42 L664.88 381.42 L666.39 381.41 L667.89 381.41 L669.39 381.41 L670.9 381.4 L672.4 381.4" fill="none" stroke="#1212fa" stroke-width="1.4" stroke-linejoin="round"/>
<line x1="391.5" y1="369.84" x2="391.5" y2="662.9" stroke="#666" stroke-width="1.2"/>
<line x1="683.5" y1="369.84" x2="683.5" y2="662.9" stroke="#777" stroke-width="1.3"/>
<line x1="390.9" y1="370.44" x2="684.15" y2="370.44" stroke="#666" stroke-width="1.2"/>
<line x1="390.9" y1="662.3" x2="684.15" y2="662.3" stroke="#444" stroke-width="1.2"/>
<line x1="672.4" y1="662.3" x2="672.4" y2="667.5" stroke="#555" stroke-width="1"/>
<line x1="386.2" y1="651.6" x2="391.6" y2="651.6" stroke="#555" stroke-width="1"/>
<text transform="translate(672.4 681.2) scale(0.93 1.02)" font-size="11.7" text-anchor="middle" fill="#000">0.0</text>
<text transform="translate(379.4 651.6) rotate(-90) scale(0.95 1.0)" font-size="11.7" text-anchor="middle" fill="#000">0.0</text>
<line x1="618.4" y1="662.3" x2="618.4" y2="667.5" stroke="#555" stroke-width="1"/>
<line x1="386.2" y1="597.56" x2="391.6" y2="597.56" stroke="#555" stroke-width="1"/>
<text transform="translate(618.4 681.2) scale(0.93 1.02)" font-size="11.7" text-anchor="middle" fill="#000">0.2</text>
<text transform="translate(379.4 597.56) rotate(-90) scale(0.95 1.0)" font-size="11.7" text-anchor="middle" fill="#000">0.2</text>
<line x1="564.4" y1="662.3" x2="564.4" y2="667.5" stroke="#555" stroke-width="1"/>
<line x1="386.2" y1="543.52" x2="391.6" y2="543.52" stroke="#555" stroke-width="1"/>
<text transform="translate(564.4 681.2) scale(0.93 1.02)" font-size="11.7" text-anchor="middle" fill="#000">0.4</text>
<text transform="translate(379.4 543.52) rotate(-90) scale(0.95 1.0)" font-size="11.7" text-anchor="middle" fill="#000">0.4</text>
<line x1="510.4" y1="662.3" x2="510.4" y2="667.5" stroke="#555" stroke-width="1"/>
<line x1="386.2" y1="489.48" x2="391.6" y2="489.48" stroke="#555" stroke-width="1"/>
<text transform="translate(510.4 681.2) scale(0.93 1.02)" font-size="11.7" text-anchor="middle" fill="#000">0.6</text>
<text transform="translate(379.4 489.48) rotate(-90) scale(0.95 1.0)" font-size="11.7" text-anchor="middle" fill="#000">0.6</text>
<line x1="456.4" y1="662.3" x2="456.4" y2="667.5" stroke="#555" stroke-width="1"/>
<line x1="386.2" y1="435.44" x2="391.6" y2="435.44" stroke="#555" stroke-width="1"/>
<text transform="translate(456.4 681.2) scale(0.93 1.02)" font-size="11.7" text-anchor="middle" fill="#000">0.8</text>
<text transform="translate(379.4 435.44) rotate(-90) scale(0.95 1.0)" font-size="11.7" text-anchor="middle" fill="#000">0.8</text>
<line x1="402.4" y1="662.3" x2="402.4" y2="667.5" stroke="#555" stroke-width="1"/>
<line x1="386.2" y1="381.4" x2="391.6" y2="381.4" stroke="#555" stroke-width="1"/>
<text transform="translate(402.4 681.2) scale(0.93 1.02)" font-size="11.7" text-anchor="middle" fill="#000">1.0</text>
<text transform="translate(379.4 381.4) rotate(-90) scale(0.95 1.0)" font-size="11.7" text-anchor="middle" fill="#000">1.0</text>
<text x="537.25" y="695.9" font-size="11.85" text-anchor="middle" fill="#000">Specificity</text>
<text transform="translate(364.3 516.4) rotate(-90)" font-size="11.75" text-anchor="middle" fill="#000">Sensitivity</text>
<text x="537.65" y="364.7" font-size="12.65" font-weight="bold" text-anchor="middle" fill="#000">3-year XGBoost prognostic model (train data)</text>
<circle cx="469.9" cy="435.71" r="1.5" fill="#111"/>
<text x="473.7" y="443.61" font-size="8.4" fill="#000" stroke="#000" stroke-width="0.06">0.132 (0.750, 0.799)</text>
<text x="537.7" y="522.6" font-size="8.4" fill="#0808f8" stroke="#0808f8" stroke-width="0.06">AUC: 0.864</text>
</g>
<g>
<line x1="318.3" y1="726.3" x2="318.3" y2="736.1" stroke="#66f566" stroke-width="1.05" stroke-dasharray="1 1.9"/>
<line x1="318.3" y1="1006.9" x2="318.3" y2="1016.6" stroke="#66f566" stroke-width="1.05" stroke-dasharray="1 1.9"/>
<line x1="291.27" y1="726.3" x2="291.27" y2="736.1" stroke="#66f566" stroke-width="1.05" stroke-dasharray="1 1.9"/>
<line x1="291.27" y1="1006.9" x2="291.27" y2="1016.6" stroke="#66f566" stroke-width="1.05" stroke-dasharray="1 1.9"/>
<line x1="264.24" y1="726.3" x2="264.24" y2="736.1" stroke="#66f566" stroke-width="1.05" stroke-dasharray="1 1.9"/>
<line x1="264.24" y1="1006.9" x2="264.24" y2="1016.6" stroke="#66f566" stroke-width="1.05" stroke-dasharray="1 1.9"/>
<line x1="237.21" y1="726.3" x2="237.21" y2="736.1" stroke="#66f566" stroke-width="1.05" stroke-dasharray="1 1.9"/>
<line x1="237.21" y1="1006.9" x2="237.21" y2="1016.6" stroke="#66f566" stroke-width="1.05" stroke-dasharray="1 1.9"/>
<line x1="210.18" y1="726.3" x2="210.18" y2="736.1" stroke="#66f566" stroke-width="1.05" stroke-dasharray="1 1.9"/>
<line x1="210.18" y1="1006.9" x2="210.18" y2="1016.6" stroke="#66f566" stroke-width="1.05" stroke-dasharray="1 1.9"/>
<line x1="183.15" y1="726.3" x2="183.15" y2="736.1" stroke="#66f566" stroke-width="1.05" stroke-dasharray="1 1.9"/>
<line x1="183.15" y1="1006.9" x2="183.15" y2="1016.6" stroke="#66f566" stroke-width="1.05" stroke-dasharray="1 1.9"/>
<line x1="156.12" y1="726.3" x2="156.12" y2="736.1" stroke="#66f566" stroke-width="1.05" stroke-dasharray="1 1.9"/>
<line x1="156.12" y1="1006.9" x2="156.12" y2="1016.6" stroke="#66f566" stroke-width="1.05" stroke-dasharray="1 1.9"/>
<line x1="129.09" y1="726.3" x2="129.09" y2="736.1" stroke="#66f566" stroke-width="1.05" stroke-dasharray="1 1.9"/>
<line x1="129.09" y1="1006.9" x2="129.09" y2="1016.6" stroke="#66f566" stroke-width="1.05" stroke-dasharray="1 1.9"/>
<line x1="102.06" y1="726.3" x2="102.06" y2="736.1" stroke="#66f566" stroke-width="1.05" stroke-dasharray="1 1.9"/>
<line x1="102.06" y1="1006.9" x2="102.06" y2="1016.6" stroke="#66f566" stroke-width="1.05" stroke-dasharray="1 1.9"/>
<line x1="75.03" y1="726.3" x2="75.03" y2="736.1" stroke="#66f566" stroke-width="1.05" stroke-dasharray="1 1.9"/>
<line x1="75.03" y1="1006.9" x2="75.03" y2="1016.6" stroke="#66f566" stroke-width="1.05" stroke-dasharray="1 1.9"/>
<line x1="48" y1="726.3" x2="48" y2="736.1" stroke="#66f566" stroke-width="1.05" stroke-dasharray="1 1.9"/>
<line x1="48" y1="1006.9" x2="48" y2="1016.6" stroke="#66f566" stroke-width="1.05" stroke-dasharray="1 1.9"/>
<line x1="38.1" y1="1006.3" x2="48" y2="1006.3" stroke="#ff5252" stroke-width="1.15" stroke-dasharray="1 1.9"/>
<line x1="319.1" y1="1006.3" x2="328.6" y2="1006.3" stroke="#ff5252" stroke-width="1.15" stroke-dasharray="1 1.9"/>
<line x1="38.1" y1="952.26" x2="48" y2="952.26" stroke="#ff5252" stroke-width="1.15" stroke-dasharray="1 1.9"/>
<line x1="319.1" y1="952.26" x2="328.6" y2="952.26" stroke="#ff5252" stroke-width="1.15" stroke-dasharray="1 1.9"/>
<line x1="38.1" y1="898.22" x2="48" y2="898.22" stroke="#ff5252" stroke-width="1.15" stroke-dasharray="1 1.9"/>
<line x1="319.1" y1="898.22" x2="328.6" y2="898.22" stroke="#ff5252" stroke-width="1.15" stroke-dasharray="1 1.9"/>
<line x1="38.1" y1="844.18" x2="48" y2="844.18" stroke="#ff5252" stroke-width="1.15" stroke-dasharray="1 1.9"/>
<line x1="319.1" y1="844.18" x2="328.6" y2="844.18" stroke="#ff5252" stroke-width="1.15" stroke-dasharray="1 1.9"/>
<line x1="38.1" y1="790.14" x2="48" y2="790.14" stroke="#ff5252" stroke-width="1.15" stroke-dasharray="1 1.9"/>
<line x1="319.1" y1="790.14" x2="328.6" y2="790.14" stroke="#ff5252" stroke-width="1.15" stroke-dasharray="1 1.9"/>
<line x1="38.1" y1="736.1" x2="48" y2="736.1" stroke="#ff5252" stroke-width="1.15" stroke-dasharray="1 1.9"/>
<line x1="319.1" y1="736.1" x2="328.6" y2="736.1" stroke="#ff5252" stroke-width="1.15" stroke-dasharray="1 1.9"/>
<rect x="48" y="736.1" width="270.3" height="270.2" fill="#ebebeb"/>
<path d="M48 1006.3 L48.1 1004.8 L48 1003.3 L48 1001.79 L48 1000.29 L48.07 998.79 L48.01 997.29 L48.13 995.79 L48.3 994.29 L48.11 992.79 L48 991.28 L48.05 989.78 L48.32 988.29 L48.52 986.79 L48.28 985.28 L48.09 983.77 L48.48 982.28 L48.98 980.8 L48.94 979.3 L48.66 977.78 L48.91 976.29 L49.05 974.79 L49.07 973.29 L49.44 971.81 L49.5 970.31 L49.37 968.8 L49.49 967.3 L49.49 965.8 L49.46 964.29 L49.58 962.79 L49.69 961.3 L49.81 959.8 L49.93 958.3 L50.05 956.81 L50.21 955.31 L50.39 953.82 L50.54 952.33 L50.87 950.85 L50.71 949.33 L50.82 947.83 L51.15 946.35 L50.89 944.82 L51.02 943.33 L51.36 941.85 L51.68 940.37 L51.63 938.86 L51.62 937.35 L51.94 935.87 L51.78 934.35 L51.73 932.83 L52.23 931.37 L52.68 929.91 L52.91 928.42 L53.04 926.93 L53.09 925.42 L53.18 923.92 L53.46 922.44 L53.47 920.94 L53.45 919.42 L53.88 917.97 L53.93 916.45 L54.36 915 L54.77 913.55 L54.84 912.04 L55.59 910.66 L55.78 909.16 L55.68 907.61 L56.36 906.22 L56.59 904.73 L56.6 903.2 L57.16 901.78 L57.61 900.34 L57.94 898.88 L58.24 897.41 L58.66 895.96 L59.07 894.51 L59.25 893.01 L59.28 891.49 L59.38 889.98 L59.48 888.47 L59.99 887.04 L60.29 885.57 L60.63 884.1 L61.53 882.79 L61.69 881.3 L61.89 879.77 L62.58 878.43 L63.42 877.16 L63.98 875.76 L64.44 874.33 L65.01 872.96 L65.39 871.52 L66 870.13 L66.23 868.64 L66.42 867.14 L67.03 865.75 L67.58 864.35 L67.8 862.85 L68.28 861.43 L68.98 860.07 L69.39 858.63 L69.78 857.17 L69.85 855.62 L70.19 854.16 L71.02 852.84 L71.58 851.45 L71.92 849.98 L72.65 848.64 L73.45 847.32 L73.65 845.81 L74.08 844.37 L74.26 842.85 L74.14 841.23 L75.04 839.94 L75.78 838.61 L76.24 837.18 L76.88 835.82 L77.34 834.39 L77.92 833 L78.51 831.62 L78.75 830.1 L79.32 828.71 L80.12 827.41 L80.91 826.11 L81.26 824.64 L81.54 823.13 L82.19 821.77 L82.71 820.36 L83.55 819.08 L84.17 817.71 L84.4 816.19 L84.91 814.78 L85.64 813.45 L86.03 811.99 L86.46 810.54 L87.42 809.32 L88.17 808.01 L88.54 806.53 L88.94 805.07 L89.52 803.69 L89.96 802.24 L90.72 800.93 L91.58 799.67 L92.06 798.24 L92.45 796.77 L92.97 795.35 L93.88 794.12 L94.68 792.84 L95.2 791.43 L95.9 790.1 L96.77 788.85 L97.26 787.42 L97.72 785.97 L98.37 784.61 L98.97 783.23 L99.91 782.03 L100.85 780.83 L101.51 779.48 L102.01 778.04 L102.54 776.62 L103.42 775.39 L104.23 774.12 L104.98 772.82 L105.68 771.49 L106.52 770.24 L107.63 769.16 L108.52 767.94 L109.27 766.64 L109.86 765.24 L110.54 763.9 L111.26 762.58 L112.06 761.32 L112.89 760.07 L113.58 758.72 L114.46 757.49 L115.6 756.53 L116.84 755.73 L118.05 754.86 L119.18 753.88 L120.33 753 L121.25 751.91 L122.23 750.8 L123.16 749.61 L123.73 748.21 L124.49 746.92 L125.14 745.54 L126.07 744.33 L127.4 743.56 L128.87 743.06 L130.06 742.2 L131.34 741.37 L132.84 741.15 L134.26 740.65 L135.66 740.04 L137.16 739.87 L138.67 739.73 L140.1 739.29 L141.61 739.05 L143.04 738.61 L144.41 737.97 L145.88 737.66 L147.32 737.24 L148.72 736.67 L150.17 736.34 L151.65 736.17 L153.14 736.11 L154.64 736.1 L156.14 736.1 L157.65 736.1 L159.15 736.1 L160.65 736.1 L162.15 736.1 L163.65 736.1 L165.15 736.1 L166.65 736.1 L168.16 736.1 L169.66 736.1 L171.16 736.1 L172.66 736.1 L174.16 736.1 L175.66 736.1 L177.16 736.1 L178.67 736.1 L180.17 736.1 L181.67 736.1 L183.17 736.1 L184.67 736.1 L186.17 736.1 L187.67 736.1 L189.18 736.1 L190.68 736.1 L192.18 736.1 L193.68 736.1 L195.18 736.1 L196.68 736.1 L198.18 736.1 L199.69 736.1 L201.19 736.1 L202.69 736.1 L204.19 736.1 L205.69 736.1 L207.19 736.1 L208.69 736.1 L210.2 736.1 L211.7 736.1 L213.2 736.1 L214.7 736.1 L216.2 736.1 L217.7 736.1 L219.2 736.1 L220.71 736.1 L222.21 736.1 L223.71 736.1 L225.21 736.1 L226.71 736.1 L228.21 736.1 L229.71 736.1 L231.22 736.1 L232.72 736.1 L234.22 736.1 L235.72 736.1 L237.22 736.1 L238.72 736.1 L240.22 736.1 L241.73 736.1 L243.23 736.1 L244.73 736.1 L246.23 736.1 L247.73 736.1 L249.23 736.1 L250.73 736.1 L252.24 736.1 L253.74 736.1 L255.24 736.1 L256.74 736.1 L258.24 736.1 L259.74 736.1 L261.25 736.1 L262.75 736.1 L264.25 736.1 L265.75 736.1 L267.25 736.1 L268.75 736.1 L270.25 736.1 L271.76 736.1 L273.26 736.1 L274.76 736.1 L276.26 736.1 L277.76 736.1 L279.26 736.1 L280.76 736.1 L282.27 736.1 L283.77 736.1 L285.27 736.1 L286.77 736.1 L288.27 736.1 L289.77 736.1 L291.27 736.1 L292.78 736.1 L294.28 736.1 L295.78 736.1 L297.28 736.1 L298.78 736.1 L300.28 736.1 L301.78 736.1 L303.29 736.1 L304.79 736.1 L306.29 736.1 L307.79 736.1 L309.29 736.1 L310.79 736.1 L312.29 736.1 L313.8 736.1 L315.3 736.1 L316.8 736.1 L318.3 736.1 L318.3 1006.3 L48 1006.3 Z" fill="#9ecee0"/>
<line x1="48" y1="735.6" x2="48" y2="1006.8" stroke="#a8a8a8" stroke-width="2.0"/>
<line x1="318.3" y1="735.6" x2="318.3" y2="1006.8" stroke="#8a8a8a" stroke-width="1.0"/>
<line x1="47.5" y1="736.2" x2="318.8" y2="736.2" stroke="#999" stroke-width="1.0"/>
<line x1="47.5" y1="1006.3" x2="318.8" y2="1006.3" stroke="#777" stroke-width="1.2"/>
<line x1="37.3" y1="1016.6" x2="328.6" y2="725.5" stroke="#969696" stroke-width="0.75"/>
<path d="M48 1006.3 L48.1 1004.8 L48 1003.3 L48 1001.79 L48 1000.29 L48.07 998.79 L48.01 997.29 L48.13 995.79 L48.3 994.29 L48.11 992.79 L48 991.28 L48.05 989.78 L48.32 988.29 L48.52 986.79 L48.28 985.28 L48.09 983.77 L48.48 982.28 L48.98 980.8 L48.94 979.3 L48.66 977.78 L48.91 976.29 L49.05 974.79 L49.07 973.29 L49.44 971.81 L49.5 970.31 L49.37 968.8 L49.49 967.3 L49.49 965.8 L49.46 964.29 L49.58 962.79 L49.69 961.3 L49.81 959.8 L49.93 958.3 L50.05 956.81 L50.21 955.31 L50.39 953.82 L50.54 952.33 L50.87 950.85 L50.71 949.33 L50.82 947.83 L51.15 946.35 L50.89 944.82 L51.02 943.33 L51.36 941.85 L51.68 940.37 L51.63 938.86 L51.62 937.35 L51.94 935.87 L51.78 934.35 L51.73 932.83 L52.23 931.37 L52.68 929.91 L52.91 928.42 L53.04 926.93 L53.09 925.42 L53.18 923.92 L53.46 922.44 L53.47 920.94 L53.45 919.42 L53.88 917.97 L53.93 916.45 L54.36 915 L54.77 913.55 L54.84 912.04 L55.59 910.66 L55.78 909.16 L55.68 907.61 L56.36 906.22 L56.59 904.73 L56.6 903.2 L57.16 901.78 L57.61 900.34 L57.94 898.88 L58.24 897.41 L58.66 895.96 L59.07 894.51 L59.25 893.01 L59.28 891.49 L59.38 889.98 L59.48 888.47 L59.99 887.04 L60.29 885.57 L60.63 884.1 L61.53 882.79 L61.69 881.3 L61.89 879.77 L62.58 878.43 L63.42 877.16 L63.98 875.76 L64.44 874.33 L65.01 872.96 L65.39 871.52 L66 870.13 L66.23 868.64 L66.42 867.14 L67.03 865.75 L67.58 864.35 L67.8 862.85 L68.28 861.43 L68.98 860.07 L69.39 858.63 L69.78 857.17 L69.85 855.62 L70.19 854.16 L71.02 852.84 L71.58 851.45 L71.92 849.98 L72.65 848.64 L73.45 847.32 L73.65 845.81 L74.08 844.37 L74.26 842.85 L74.14 841.23 L75.04 839.94 L75.78 838.61 L76.24 837.18 L76.88 835.82 L77.34 834.39 L77.92 833 L78.51 831.62 L78.75 830.1 L79.32 828.71 L80.12 827.41 L80.91 826.11 L81.26 824.64 L81.54 823.13 L82.19 821.77 L82.71 820.36 L83.55 819.08 L84.17 817.71 L84.4 816.19 L84.91 814.78 L85.64 813.45 L86.03 811.99 L86.46 810.54 L87.42 809.32 L88.17 808.01 L88.54 806.53 L88.94 805.07 L89.52 803.69 L89.96 802.24 L90.72 800.93 L91.58 799.67 L92.06 798.24 L92.45 796.77 L92.97 795.35 L93.88 794.12 L94.68 792.84 L95.2 791.43 L95.9 790.1 L96.77 788.85 L97.26 787.42 L97.72 785.97 L98.37 784.61 L98.97 783.23 L99.91 782.03 L100.85 780.83 L101.51 779.48 L102.01 778.04 L102.54 776.62 L103.42 775.39 L104.23 774.12 L104.98 772.82 L105.68 771.49 L106.52 770.24 L107.63 769.16 L108.52 767.94 L109.27 766.64 L109.86 765.24 L110.54 763.9 L111.26 762.58 L112.06 761.32 L112.89 760.07 L113.58 758.72 L114.46 757.49 L115.6 756.53 L116.84 755.73 L118.05 754.86 L119.18 753.88 L120.33 753 L121.25 751.91 L122.23 750.8 L123.16 749.61 L123.73 748.21 L124.49 746.92 L125.14 745.54 L126.07 744.33 L127.4 743.56 L128.87 743.06 L130.06 742.2 L131.34 741.37 L132.84 741.15 L134.26 740.65 L135.66 740.04 L137.16 739.87 L138.67 739.73 L140.1 739.29 L141.61 739.05 L143.04 738.61 L144.41 737.97 L145.88 737.66 L147.32 737.24 L148.72 736.67 L150.17 736.34 L151.65 736.17 L153.14 736.11 L154.64 736.1 L156.14 736.1 L157.65 736.1 L159.15 736.1 L160.65 736.1 L162.15 736.1 L163.65 736.1 L165.15 736.1 L166.65 736.1 L168.16 736.1 L169.66 736.1 L171.16 736.1 L172.66 736.1 L174.16 736.1 L175.66 736.1 L177.16 736.1 L178.67 736.1 L180.17 736.1 L181.67 736.1 L183.17 736.1 L184.67 736.1 L186.17 736.1 L187.67 736.1 L189.18 736.1 L190.68 736.1 L192.18 736.1 L193.68 736.1 L195.18 736.1 L196.68 736.1 L198.18 736.1 L199.69 736.1 L201.19 736.1 L202.69 736.1 L204.19 736.1 L205.69 736.1 L207.19 736.1 L208.69 736.1 L210.2 736.1 L211.7 736.1 L213.2 736.1 L214.7 736.1 L216.2 736.1 L217.7 736.1 L219.2 736.1 L220.71 736.1 L222.21 736.1 L223.71 736.1 L225.21 736.1 L226.71 736.1 L228.21 736.1 L229.71 736.1 L231.22 736.1 L232.72 736.1 L234.22 736.1 L235.72 736.1 L237.22 736.1 L238.72 736.1 L240.22 736.1 L241.73 736.1 L243.23 736.1 L244.73 736.1 L246.23 736.1 L247.73 736.1 L249.23 736.1 L250.73 736.1 L252.24 736.1 L253.74 736.1 L255.24 736.1 L256.74 736.1 L258.24 736.1 L259.74 736.1 L261.25 736.1 L262.75 736.1 L264.25 736.1 L265.75 736.1 L267.25 736.1 L268.75 736.1 L270.25 736.1 L271.76 736.1 L273.26 736.1 L274.76 736.1 L276.26 736.1 L277.76 736.1 L279.26 736.1 L280.76 736.1 L282.27 736.1 L283.77 736.1 L285.27 736.1 L286.77 736.1 L288.27 736.1 L289.77 736.1 L291.27 736.1 L292.78 736.1 L294.28 736.1 L295.78 736.1 L297.28 736.1 L298.78 736.1 L300.28 736.1 L301.78 736.1 L303.29 736.1 L304.79 736.1 L306.29 736.1 L307.79 736.1 L309.29 736.1 L310.79 736.1 L312.29 736.1 L313.8 736.1 L315.3 736.1 L316.8 736.1 L318.3 736.1" fill="none" stroke="#1212fa" stroke-width="1.4" stroke-linejoin="round"/>
<line x1="37" y1="724.79" x2="37" y2="1017.4" stroke="#979797" stroke-width="2.0"/>
<line x1="328.6" y1="724.79" x2="328.6" y2="1017.4" stroke="#808080" stroke-width="1.3"/>
<line x1="36" y1="725.44" x2="329.25" y2="725.44" stroke="#999" stroke-width="1.3"/>
<line x1="36" y1="1016.6" x2="329.25" y2="1016.6" stroke="#808080" stroke-width="1.6"/>
<line x1="318.3" y1="1016.6" x2="318.3" y2="1021.8" stroke="#555" stroke-width="1"/>
<line x1="31.9" y1="1006.3" x2="37.3" y2="1006.3" stroke="#555" stroke-width="1"/>
<text transform="translate(318.3 1035.5) scale(0.93 1.02)" font-size="11.7" text-anchor="middle" fill="#000">0.0</text>
<text transform="translate(25.1 1006.3) rotate(-90) scale(0.95 1.0)" font-size="11.7" text-anchor="middle" fill="#000">0.0</text>
<line x1="264.24" y1="1016.6" x2="264.24" y2="1021.8" stroke="#555" stroke-width="1"/>
<line x1="31.9" y1="952.26" x2="37.3" y2="952.26" stroke="#555" stroke-width="1"/>
<text transform="translate(264.24 1035.5) scale(0.93 1.02)" font-size="11.7" text-anchor="middle" fill="#000">0.2</text>
<text transform="translate(25.1 952.26) rotate(-90) scale(0.95 1.0)" font-size="11.7" text-anchor="middle" fill="#000">0.2</text>
<line x1="210.18" y1="1016.6" x2="210.18" y2="1021.8" stroke="#555" stroke-width="1"/>
<line x1="31.9" y1="898.22" x2="37.3" y2="898.22" stroke="#555" stroke-width="1"/>
<text transform="translate(210.18 1035.5) scale(0.93 1.02)" font-size="11.7" text-anchor="middle" fill="#000">0.4</text>
<text transform="translate(25.1 898.22) rotate(-90) scale(0.95 1.0)" font-size="11.7" text-anchor="middle" fill="#000">0.4</text>
<line x1="156.12" y1="1016.6" x2="156.12" y2="1021.8" stroke="#555" stroke-width="1"/>
<line x1="31.9" y1="844.18" x2="37.3" y2="844.18" stroke="#555" stroke-width="1"/>
<text transform="translate(156.12 1035.5) scale(0.93 1.02)" font-size="11.7" text-anchor="middle" fill="#000">0.6</text>
<text transform="translate(25.1 844.18) rotate(-90) scale(0.95 1.0)" font-size="11.7" text-anchor="middle" fill="#000">0.6</text>
<line x1="102.06" y1="1016.6" x2="102.06" y2="1021.8" stroke="#555" stroke-width="1"/>
<line x1="31.9" y1="790.14" x2="37.3" y2="790.14" stroke="#555" stroke-width="1"/>
<text transform="translate(102.06 1035.5) scale(0.93 1.02)" font-size="11.7" text-anchor="middle" fill="#000">0.8</text>
<text transform="translate(25.1 790.14) rotate(-90) scale(0.95 1.0)" font-size="11.7" text-anchor="middle" fill="#000">0.8</text>
<line x1="48" y1="1016.6" x2="48" y2="1021.8" stroke="#555" stroke-width="1"/>
<line x1="31.9" y1="736.1" x2="37.3" y2="736.1" stroke="#555" stroke-width="1"/>
<text transform="translate(48 1035.5) scale(0.93 1.02)" font-size="11.7" text-anchor="middle" fill="#000">1.0</text>
<text transform="translate(25.1 736.1) rotate(-90) scale(0.95 1.0)" font-size="11.7" text-anchor="middle" fill="#000">1.0</text>
<text x="182.65" y="1050.2" font-size="11.85" text-anchor="middle" fill="#000">Specificity</text>
<text transform="translate(10 871.05) rotate(-90)" font-size="11.75" text-anchor="middle" fill="#000">Sensitivity</text>
<text x="183.05" y="720" font-size="12.65" font-weight="bold" text-anchor="middle" fill="#000">5-year XGBoost prognostic model (test data)</text>
<circle cx="125.31" cy="745.56" r="1.5" fill="#111"/>
<text x="129.11" y="753.46" font-size="8.4" fill="#000" stroke="#000" stroke-width="0.06">0.066 (0.714, 0.965)</text>
<text x="183.45" y="877.3" font-size="8.4" fill="#0808f8" stroke="#0808f8" stroke-width="0.06">AUC: 0.905</text>
</g>
<g>
<line x1="672.4" y1="726.3" x2="672.4" y2="736.1" stroke="#66f566" stroke-width="1.05" stroke-dasharray="1 1.9"/>
<line x1="672.4" y1="1006.9" x2="672.4" y2="1016.6" stroke="#66f566" stroke-width="1.05" stroke-dasharray="1 1.9"/>
<line x1="645.4" y1="726.3" x2="645.4" y2="736.1" stroke="#66f566" stroke-width="1.05" stroke-dasharray="1 1.9"/>
<line x1="645.4" y1="1006.9" x2="645.4" y2="1016.6" stroke="#66f566" stroke-width="1.05" stroke-dasharray="1 1.9"/>
<line x1="618.4" y1="726.3" x2="618.4" y2="736.1" stroke="#66f566" stroke-width="1.05" stroke-dasharray="1 1.9"/>
<line x1="618.4" y1="1006.9" x2="618.4" y2="1016.6" stroke="#66f566" stroke-width="1.05" stroke-dasharray="1 1.9"/>
<line x1="591.4" y1="726.3" x2="591.4" y2="736.1" stroke="#66f566" stroke-width="1.05" stroke-dasharray="1 1.9"/>
<line x1="591.4" y1="1006.9" x2="591.4" y2="1016.6" stroke="#66f566" stroke-width="1.05" stroke-dasharray="1 1.9"/>
<line x1="564.4" y1="726.3" x2="564.4" y2="736.1" stroke="#66f566" stroke-width="1.05" stroke-dasharray="1 1.9"/>
<line x1="564.4" y1="1006.9" x2="564.4" y2="1016.6" stroke="#66f566" stroke-width="1.05" stroke-dasharray="1 1.9"/>
<line x1="537.4" y1="726.3" x2="537.4" y2="736.1" stroke="#66f566" stroke-width="1.05" stroke-dasharray="1 1.9"/>
<line x1="537.4" y1="1006.9" x2="537.4" y2="1016.6" stroke="#66f566" stroke-width="1.05" stroke-dasharray="1 1.9"/>
<line x1="510.4" y1="726.3" x2="510.4" y2="736.1" stroke="#66f566" stroke-width="1.05" stroke-dasharray="1 1.9"/>
<line x1="510.4" y1="1006.9" x2="510.4" y2="1016.6" stroke="#66f566" stroke-width="1.05" stroke-dasharray="1 1.9"/>
<line x1="483.4" y1="726.3" x2="483.4" y2="736.1" stroke="#66f566" stroke-width="1.05" stroke-dasharray="1 1.9"/>
<line x1="483.4" y1="1006.9" x2="483.4" y2="1016.6" stroke="#66f566" stroke-width="1.05" stroke-dasharray="1 1.9"/>
<line x1="456.4" y1="726.3" x2="456.4" y2="736.1" stroke="#66f566" stroke-width="1.05" stroke-dasharray="1 1.9"/>
<line x1="456.4" y1="1006.9" x2="456.4" y2="1016.6" stroke="#66f566" stroke-width="1.05" stroke-dasharray="1 1.9"/>
<line x1="429.4" y1="726.3" x2="429.4" y2="736.1" stroke="#66f566" stroke-width="1.05" stroke-dasharray="1 1.9"/>
<line x1="429.4" y1="1006.9" x2="429.4" y2="1016.6" stroke="#66f566" stroke-width="1.05" stroke-dasharray="1 1.9"/>
<line x1="402.4" y1="726.3" x2="402.4" y2="736.1" stroke="#66f566" stroke-width="1.05" stroke-dasharray="1 1.9"/>
<line x1="402.4" y1="1006.9" x2="402.4" y2="1016.6" stroke="#66f566" stroke-width="1.05" stroke-dasharray="1 1.9"/>
<line x1="392.4" y1="1006.3" x2="402.4" y2="1006.3" stroke="#ff5252" stroke-width="1.15" stroke-dasharray="1 1.9"/>
<line x1="673.2" y1="1006.3" x2="683.5" y2="1006.3" stroke="#ff5252" stroke-width="1.15" stroke-dasharray="1 1.9"/>
<line x1="392.4" y1="952.26" x2="402.4" y2="952.26" stroke="#ff5252" stroke-width="1.15" stroke-dasharray="1 1.9"/>
<line x1="673.2" y1="952.26" x2="683.5" y2="952.26" stroke="#ff5252" stroke-width="1.15" stroke-dasharray="1 1.9"/>
<line x1="392.4" y1="898.22" x2="402.4" y2="898.22" stroke="#ff5252" stroke-width="1.15" stroke-dasharray="1 1.9"/>
<line x1="673.2" y1="898.22" x2="683.5" y2="898.22" stroke="#ff5252" stroke-width="1.15" stroke-dasharray="1 1.9"/>
<line x1="392.4" y1="844.18" x2="402.4" y2="844.18" stroke="#ff5252" stroke-width="1.15" stroke-dasharray="1 1.9"/>
<line x1="673.2" y1="844.18" x2="683.5" y2="844.18" stroke="#ff5252" stroke-width="1.15" stroke-dasharray="1 1.9"/>
<line x1="392.4" y1="790.14" x2="402.4" y2="790.14" stroke="#ff5252" stroke-width="1.15" stroke-dasharray="1 1.9"/>
<line x1="673.2" y1="790.14" x2="683.5" y2="790.14" stroke="#ff5252" stroke-width="1.15" stroke-dasharray="1 1.9"/>
<line x1="392.4" y1="736.1" x2="402.4" y2="736.1" stroke="#ff5252" stroke-width="1.15" stroke-dasharray="1 1.9"/>
<line x1="673.2" y1="736.1" x2="683.5" y2="736.1" stroke="#ff5252" stroke-width="1.15" stroke-dasharray="1 1.9"/>
<rect x="402.4" y="736.1" width="270" height="270.2" fill="#ebebeb"/>
<path d="M402.4 1006.3 L402.41 1004.8 L402.4 1003.29 L402.4 1001.79 L402.4 1000.28 L402.4 998.78 L402.4 997.28 L402.52 995.78 L402.43 994.27 L402.83 992.77 L402.88 991.27 L402.59 989.76 L402.83 988.26 L402.63 986.75 L402.69 985.25 L402.85 983.75 L402.85 982.25 L402.8 980.74 L402.61 979.23 L402.95 977.74 L403.21 976.25 L403.14 974.74 L403.23 973.24 L403.35 971.74 L403.21 970.22 L402.97 968.7 L403.02 967.19 L403.21 965.69 L403.27 964.19 L403.55 962.71 L403.91 961.23 L404.12 959.74 L404.35 958.25 L404.44 956.75 L404.52 955.24 L404.73 953.75 L404.79 952.25 L404.87 950.74 L405.19 949.27 L405.39 947.78 L405.52 946.28 L405.8 944.8 L406.24 943.34 L406.5 941.86 L406.49 940.34 L406.58 938.83 L406.82 937.35 L407.41 935.92 L407.26 934.37 L407.29 932.85 L407.97 931.44 L408.26 929.96 L408.33 928.45 L408.74 926.99 L409.26 925.56 L409.23 924.03 L409.38 922.53 L409.54 921.03 L409.78 919.55 L410.1 918.08 L410.46 916.61 L410.77 915.14 L410.89 913.63 L411.18 912.16 L411.49 910.68 L411.67 909.19 L411.62 907.66 L411.94 906.19 L412.2 904.71 L412.15 903.18 L412.5 901.71 L412.9 900.25 L413.31 898.79 L413.25 897.26 L413.49 895.78 L414.16 894.37 L414.19 892.85 L414.24 891.33 L414.52 889.85 L414.76 888.37 L414.96 886.87 L415.12 885.37 L415.57 883.93 L416.14 882.51 L416.76 881.12 L417 879.64 L416.95 878.05 L417.52 876.65 L418.15 875.27 L418.6 873.84 L419.04 872.4 L419.27 870.9 L419.66 869.45 L420.33 868.08 L420.87 866.67 L421.08 865.16 L421.59 863.75 L421.97 862.29 L422.24 860.8 L422.88 859.42 L423.22 857.95 L423.49 856.47 L424.1 855.08 L424.68 853.69 L425.1 852.24 L425.5 850.79 L425.87 849.33 L426.33 847.89 L427.33 846.65 L427.85 845.24 L428.16 843.76 L428.67 842.34 L429.15 840.92 L429.87 839.57 L430.26 838.12 L430.54 836.62 L430.84 835.13 L431.56 833.79 L432.11 832.39 L432.38 830.89 L433.26 829.61 L434.13 828.34 L434.49 826.87 L434.83 825.38 L435.3 823.95 L435.91 822.58 L436.49 821.19 L436.83 819.7 L437.37 818.3 L438.16 817 L438.64 815.57 L439.07 814.12 L439.85 812.82 L440.74 811.56 L441.33 810.18 L441.73 808.71 L442.55 807.44 L443.07 806.02 L443.42 804.52 L444.31 803.28 L445.18 802.04 L445.81 800.67 L446.05 799.11 L446.75 797.78 L447.79 796.62 L448.37 795.23 L449.02 793.87 L449.81 792.58 L450.37 791.18 L450.73 789.69 L451.13 788.22 L451.88 786.91 L452.64 785.6 L453.2 784.21 L453.82 782.83 L454.61 781.55 L455.55 780.34 L456.3 779.05 L456.85 777.63 L457.67 776.37 L458.65 775.22 L459.19 773.76 L460.17 772.61 L461.18 771.49 L461.99 770.21 L463.27 769.32 L464.42 768.33 L465.24 767.05 L466.08 765.79 L467.16 764.74 L468.06 763.53 L469.06 762.4 L470.2 761.4 L471.23 760.3 L472.27 759.23 L473.18 758.01 L474.32 757.03 L475.52 756.13 L476.54 755 L477.58 753.94 L478.68 752.95 L479.77 751.94 L480.86 750.9 L481.73 749.67 L482.39 748.3 L483.22 747.04 L484.3 745.98 L485.39 744.97 L486.31 743.79 L487.4 742.77 L488.67 742 L489.84 741.02 L491.19 740.31 L492.67 739.98 L494.12 739.56 L495.53 739.05 L496.9 738.46 L498.31 737.94 L499.69 737.34 L501.08 736.8 L502.54 736.5 L504.01 736.28 L505.5 736.16 L507 736.12 L508.51 736.1 L510.01 736.1 L511.51 736.1 L513.02 736.1 L514.52 736.1 L516.02 736.1 L517.53 736.1 L519.03 736.1 L520.53 736.1 L522.04 736.1 L523.54 736.1 L525.05 736.1 L526.55 736.1 L528.05 736.1 L529.56 736.1 L531.06 736.1 L532.56 736.1 L534.07 736.1 L535.57 736.1 L537.07 736.1 L538.58 736.1 L540.08 736.1 L541.59 736.1 L543.09 736.1 L544.59 736.1 L546.1 736.1 L547.6 736.1 L549.1 736.1 L550.61 736.1 L552.11 736.1 L553.61 736.1 L555.12 736.1 L556.62 736.1 L558.13 736.1 L559.63 736.1 L561.13 736.1 L562.64 736.1 L564.14 736.1 L565.64 736.1 L567.15 736.1 L568.65 736.1 L570.15 736.1 L571.66 736.1 L573.16 736.1 L574.66 736.1 L576.17 736.1 L577.67 736.1 L579.18 736.1 L580.68 736.1 L582.18 736.1 L583.69 736.1 L585.19 736.1 L586.69 736.1 L588.2 736.1 L589.7 736.1 L591.2 736.1 L592.71 736.1 L594.21 736.1 L595.72 736.1 L597.22 736.1 L598.72 736.1 L600.23 736.1 L601.73 736.1 L603.23 736.1 L604.74 736.1 L606.24 736.1 L607.74 736.1 L609.25 736.1 L610.75 736.1 L612.26 736.1 L613.76 736.1 L615.26 736.1 L616.77 736.1 L618.27 736.1 L619.77 736.1 L621.28 736.1 L622.78 736.1 L624.28 736.1 L625.79 736.1 L627.29 736.1 L628.8 736.1 L630.3 736.1 L631.8 736.1 L633.31 736.1 L634.81 736.1 L636.31 736.1 L637.82 736.1 L639.32 736.1 L640.82 736.1 L642.33 736.1 L643.83 736.1 L645.33 736.1 L646.84 736.1 L648.34 736.1 L649.85 736.1 L651.35 736.1 L652.85 736.1 L654.36 736.1 L655.86 736.1 L657.36 736.1 L658.87 736.1 L660.37 736.1 L661.87 736.1 L663.38 736.1 L664.88 736.1 L666.39 736.1 L667.89 736.1 L669.39 736.1 L670.9 736.1 L672.4 736.1 L672.4 1006.3 L402.4 1006.3 Z" fill="#9ecee0"/>
<line x1="402.4" y1="735.6" x2="402.4" y2="1006.8" stroke="#4a4a4a" stroke-width="1.2"/>
<line x1="672.4" y1="735.6" x2="672.4" y2="1006.8" stroke="#4a4a4a" stroke-width="1.1"/>
<line x1="401.9" y1="736.2" x2="672.9" y2="736.2" stroke="#999" stroke-width="1.0"/>
<line x1="401.9" y1="1006.3" x2="672.9" y2="1006.3" stroke="#777" stroke-width="1.2"/>
<line x1="391.6" y1="1016.6" x2="683.5" y2="725.5" stroke="#969696" stroke-width="0.75"/>
<path d="M402.4 1006.3 L402.41 1004.8 L402.4 1003.29 L402.4 1001.79 L402.4 1000.28 L402.4 998.78 L402.4 997.28 L402.52 995.78 L402.43 994.27 L402.83 992.77 L402.88 991.27 L402.59 989.76 L402.83 988.26 L402.63 986.75 L402.69 985.25 L402.85 983.75 L402.85 982.25 L402.8 980.74 L402.61 979.23 L402.95 977.74 L403.21 976.25 L403.14 974.74 L403.23 973.24 L403.35 971.74 L403.21 970.22 L402.97 968.7 L403.02 967.19 L403.21 965.69 L403.27 964.19 L403.55 962.71 L403.91 961.23 L404.12 959.74 L404.35 958.25 L404.44 956.75 L404.52 955.24 L404.73 953.75 L404.79 952.25 L404.87 950.74 L405.19 949.27 L405.39 947.78 L405.52 946.28 L405.8 944.8 L406.24 943.34 L406.5 941.86 L406.49 940.34 L406.58 938.83 L406.82 937.35 L407.41 935.92 L407.26 934.37 L407.29 932.85 L407.97 931.44 L408.26 929.96 L408.33 928.45 L408.74 926.99 L409.26 925.56 L409.23 924.03 L409.38 922.53 L409.54 921.03 L409.78 919.55 L410.1 918.08 L410.46 916.61 L410.77 915.14 L410.89 913.63 L411.18 912.16 L411.49 910.68 L411.67 909.19 L411.62 907.66 L411.94 906.19 L412.2 904.71 L412.15 903.18 L412.5 901.71 L412.9 900.25 L413.31 898.79 L413.25 897.26 L413.49 895.78 L414.16 894.37 L414.19 892.85 L414.24 891.33 L414.52 889.85 L414.76 888.37 L414.96 886.87 L415.12 885.37 L415.57 883.93 L416.14 882.51 L416.76 881.12 L417 879.64 L416.95 878.05 L417.52 876.65 L418.15 875.27 L418.6 873.84 L419.04 872.4 L419.27 870.9 L419.66 869.45 L420.33 868.08 L420.87 866.67 L421.08 865.16 L421.59 863.75 L421.97 862.29 L422.24 860.8 L422.88 859.42 L423.22 857.95 L423.49 856.47 L424.1 855.08 L424.68 853.69 L425.1 852.24 L425.5 850.79 L425.87 849.33 L426.33 847.89 L427.33 846.65 L427.85 845.24 L428.16 843.76 L428.67 842.34 L429.15 840.92 L429.87 839.57 L430.26 838.12 L430.54 836.62 L430.84 835.13 L431.56 833.79 L432.11 832.39 L432.38 830.89 L433.26 829.61 L434.13 828.34 L434.49 826.87 L434.83 825.38 L435.3 823.95 L435.91 822.58 L436.49 821.19 L436.83 819.7 L437.37 818.3 L438.16 817 L438.64 815.57 L439.07 814.12 L439.85 812.82 L440.74 811.56 L441.33 810.18 L441.73 808.71 L442.55 807.44 L443.07 806.02 L443.42 804.52 L444.31 803.28 L445.18 802.04 L445.81 800.67 L446.05 799.11 L446.75 797.78 L447.79 796.62 L448.37 795.23 L449.02 793.87 L449.81 792.58 L450.37 791.18 L450.73 789.69 L451.13 788.22 L451.88 786.91 L452.64 785.6 L453.2 784.21 L453.82 782.83 L454.61 781.55 L455.55 780.34 L456.3 779.05 L456.85 777.63 L457.67 776.37 L458.65 775.22 L459.19 773.76 L460.17 772.61 L461.18 771.49 L461.99 770.21 L463.27 769.32 L464.42 768.33 L465.24 767.05 L466.08 765.79 L467.16 764.74 L468.06 763.53 L469.06 762.4 L470.2 761.4 L471.23 760.3 L472.27 759.23 L473.18 758.01 L474.32 757.03 L475.52 756.13 L476.54 755 L477.58 753.94 L478.68 752.95 L479.77 751.94 L480.86 750.9 L481.73 749.67 L482.39 748.3 L483.22 747.04 L484.3 745.98 L485.39 744.97 L486.31 743.79 L487.4 742.77 L488.67 742 L489.84 741.02 L491.19 740.31 L492.67 739.98 L494.12 739.56 L495.53 739.05 L496.9 738.46 L498.31 737.94 L499.69 737.34 L501.08 736.8 L502.54 736.5 L504.01 736.28 L505.5 736.16 L507 736.12 L508.51 736.1 L510.01 736.1 L511.51 736.1 L513.02 736.1 L514.52 736.1 L516.02 736.1 L517.53 736.1 L519.03 736.1 L520.53 736.1 L522.04 736.1 L523.54 736.1 L525.05 736.1 L526.55 736.1 L528.05 736.1 L529.56 736.1 L531.06 736.1 L532.56 736.1 L534.07 736.1 L535.57 736.1 L537.07 736.1 L538.58 736.1 L540.08 736.1 L541.59 736.1 L543.09 736.1 L544.59 736.1 L546.1 736.1 L547.6 736.1 L549.1 736.1 L550.61 736.1 L552.11 736.1 L553.61 736.1 L555.12 736.1 L556.62 736.1 L558.13 736.1 L559.63 736.1 L561.13 736.1 L562.64 736.1 L564.14 736.1 L565.64 736.1 L567.15 736.1 L568.65 736.1 L570.15 736.1 L571.66 736.1 L573.16 736.1 L574.66 736.1 L576.17 736.1 L577.67 736.1 L579.18 736.1 L580.68 736.1 L582.18 736.1 L583.69 736.1 L585.19 736.1 L586.69 736.1 L588.2 736.1 L589.7 736.1 L591.2 736.1 L592.71 736.1 L594.21 736.1 L595.72 736.1 L597.22 736.1 L598.72 736.1 L600.23 736.1 L601.73 736.1 L603.23 736.1 L604.74 736.1 L606.24 736.1 L607.74 736.1 L609.25 736.1 L610.75 736.1 L612.26 736.1 L613.76 736.1 L615.26 736.1 L616.77 736.1 L618.27 736.1 L619.77 736.1 L621.28 736.1 L622.78 736.1 L624.28 736.1 L625.79 736.1 L627.29 736.1 L628.8 736.1 L630.3 736.1 L631.8 736.1 L633.31 736.1 L634.81 736.1 L636.31 736.1 L637.82 736.1 L639.32 736.1 L640.82 736.1 L642.33 736.1 L643.83 736.1 L645.33 736.1 L646.84 736.1 L648.34 736.1 L649.85 736.1 L651.35 736.1 L652.85 736.1 L654.36 736.1 L655.86 736.1 L657.36 736.1 L658.87 736.1 L660.37 736.1 L661.87 736.1 L663.38 736.1 L664.88 736.1 L666.39 736.1 L667.89 736.1 L669.39 736.1 L670.9 736.1 L672.4 736.1" fill="none" stroke="#1212fa" stroke-width="1.4" stroke-linejoin="round"/>
<line x1="391.5" y1="724.79" x2="391.5" y2="1017.4" stroke="#666" stroke-width="1.2"/>
<line x1="683.5" y1="724.79" x2="683.5" y2="1017.4" stroke="#777" stroke-width="1.3"/>
<line x1="390.9" y1="725.44" x2="684.15" y2="725.44" stroke="#999" stroke-width="1.3"/>
<line x1="390.9" y1="1016.6" x2="684.15" y2="1016.6" stroke="#808080" stroke-width="1.6"/>
<line x1="672.4" y1="1016.6" x2="672.4" y2="1021.8" stroke="#555" stroke-width="1"/>
<line x1="386.2" y1="1006.3" x2="391.6" y2="1006.3" stroke="#555" stroke-width="1"/>
<text transform="translate(672.4 1035.5) scale(0.93 1.02)" font-size="11.7" text-anchor="middle" fill="#000">0.0</text>
<text transform="translate(379.4 1006.3) rotate(-90) scale(0.95 1.0)" font-size="11.7" text-anchor="middle" fill="#000">0.0</text>
<line x1="618.4" y1="1016.6" x2="618.4" y2="1021.8" stroke="#555" stroke-width="1"/>
<line x1="386.2" y1="952.26" x2="391.6" y2="952.26" stroke="#555" stroke-width="1"/>
<text transform="translate(618.4 1035.5) scale(0.93 1.02)" font-size="11.7" text-anchor="middle" fill="#000">0.2</text>
<text transform="translate(379.4 952.26) rotate(-90) scale(0.95 1.0)" font-size="11.7" text-anchor="middle" fill="#000">0.2</text>
<line x1="564.4" y1="1016.6" x2="564.4" y2="1021.8" stroke="#555" stroke-width="1"/>
<line x1="386.2" y1="898.22" x2="391.6" y2="898.22" stroke="#555" stroke-width="1"/>
<text transform="translate(564.4 1035.5) scale(0.93 1.02)" font-size="11.7" text-anchor="middle" fill="#000">0.4</text>
<text transform="translate(379.4 898.22) rotate(-90) scale(0.95 1.0)" font-size="11.7" text-anchor="middle" fill="#000">0.4</text>
<line x1="510.4" y1="1016.6" x2="510.4" y2="1021.8" stroke="#555" stroke-width="1"/>
<line x1="386.2" y1="844.18" x2="391.6" y2="844.18" stroke="#555" stroke-width="1"/>
<text transform="translate(510.4 1035.5) scale(0.93 1.02)" font-size="11.7" text-anchor="middle" fill="#000">0.6</text>
<text transform="translate(379.4 844.18) rotate(-90) scale(0.95 1.0)" font-size="11.7" text-anchor="middle" fill="#000">0.6</text>
<line x1="456.4" y1="1016.6" x2="456.4" y2="1021.8" stroke="#555" stroke-width="1"/>
<line x1="386.2" y1="790.14" x2="391.6" y2="790.14" stroke="#555" stroke-width="1"/>
<text transform="translate(456.4 1035.5) scale(0.93 1.02)" font-size="11.7" text-anchor="middle" fill="#000">0.8</text>
<text transform="translate(379.4 790.14) rotate(-90) scale(0.95 1.0)" font-size="11.7" text-anchor="middle" fill="#000">0.8</text>
<line x1="402.4" y1="1016.6" x2="402.4" y2="1021.8" stroke="#555" stroke-width="1"/>
<line x1="386.2" y1="736.1" x2="391.6" y2="736.1" stroke="#555" stroke-width="1"/>
<text transform="translate(402.4 1035.5) scale(0.93 1.02)" font-size="11.7" text-anchor="middle" fill="#000">1.0</text>
<text transform="translate(379.4 736.1) rotate(-90) scale(0.95 1.0)" font-size="11.7" text-anchor="middle" fill="#000">1.0</text>
<text x="537.25" y="1050.2" font-size="11.85" text-anchor="middle" fill="#000">Specificity</text>
<text transform="translate(364.3 871.05) rotate(-90)" font-size="11.75" text-anchor="middle" fill="#000">Sensitivity</text>
<text x="537.65" y="720" font-size="12.65" font-weight="bold" text-anchor="middle" fill="#000">5-year XGBoost prognostic model (train data)</text>
<circle cx="485.29" cy="744.48" r="1.5" fill="#111"/>
<text x="489.09" y="752.38" font-size="8.4" fill="#000" stroke="#000" stroke-width="0.06">0.050 (0.693, 0.969)</text>
<text x="537.7" y="877.3" font-size="8.4" fill="#0808f8" stroke="#0808f8" stroke-width="0.06">AUC: 0.902</text>
</g>
</svg>
</body></html>
